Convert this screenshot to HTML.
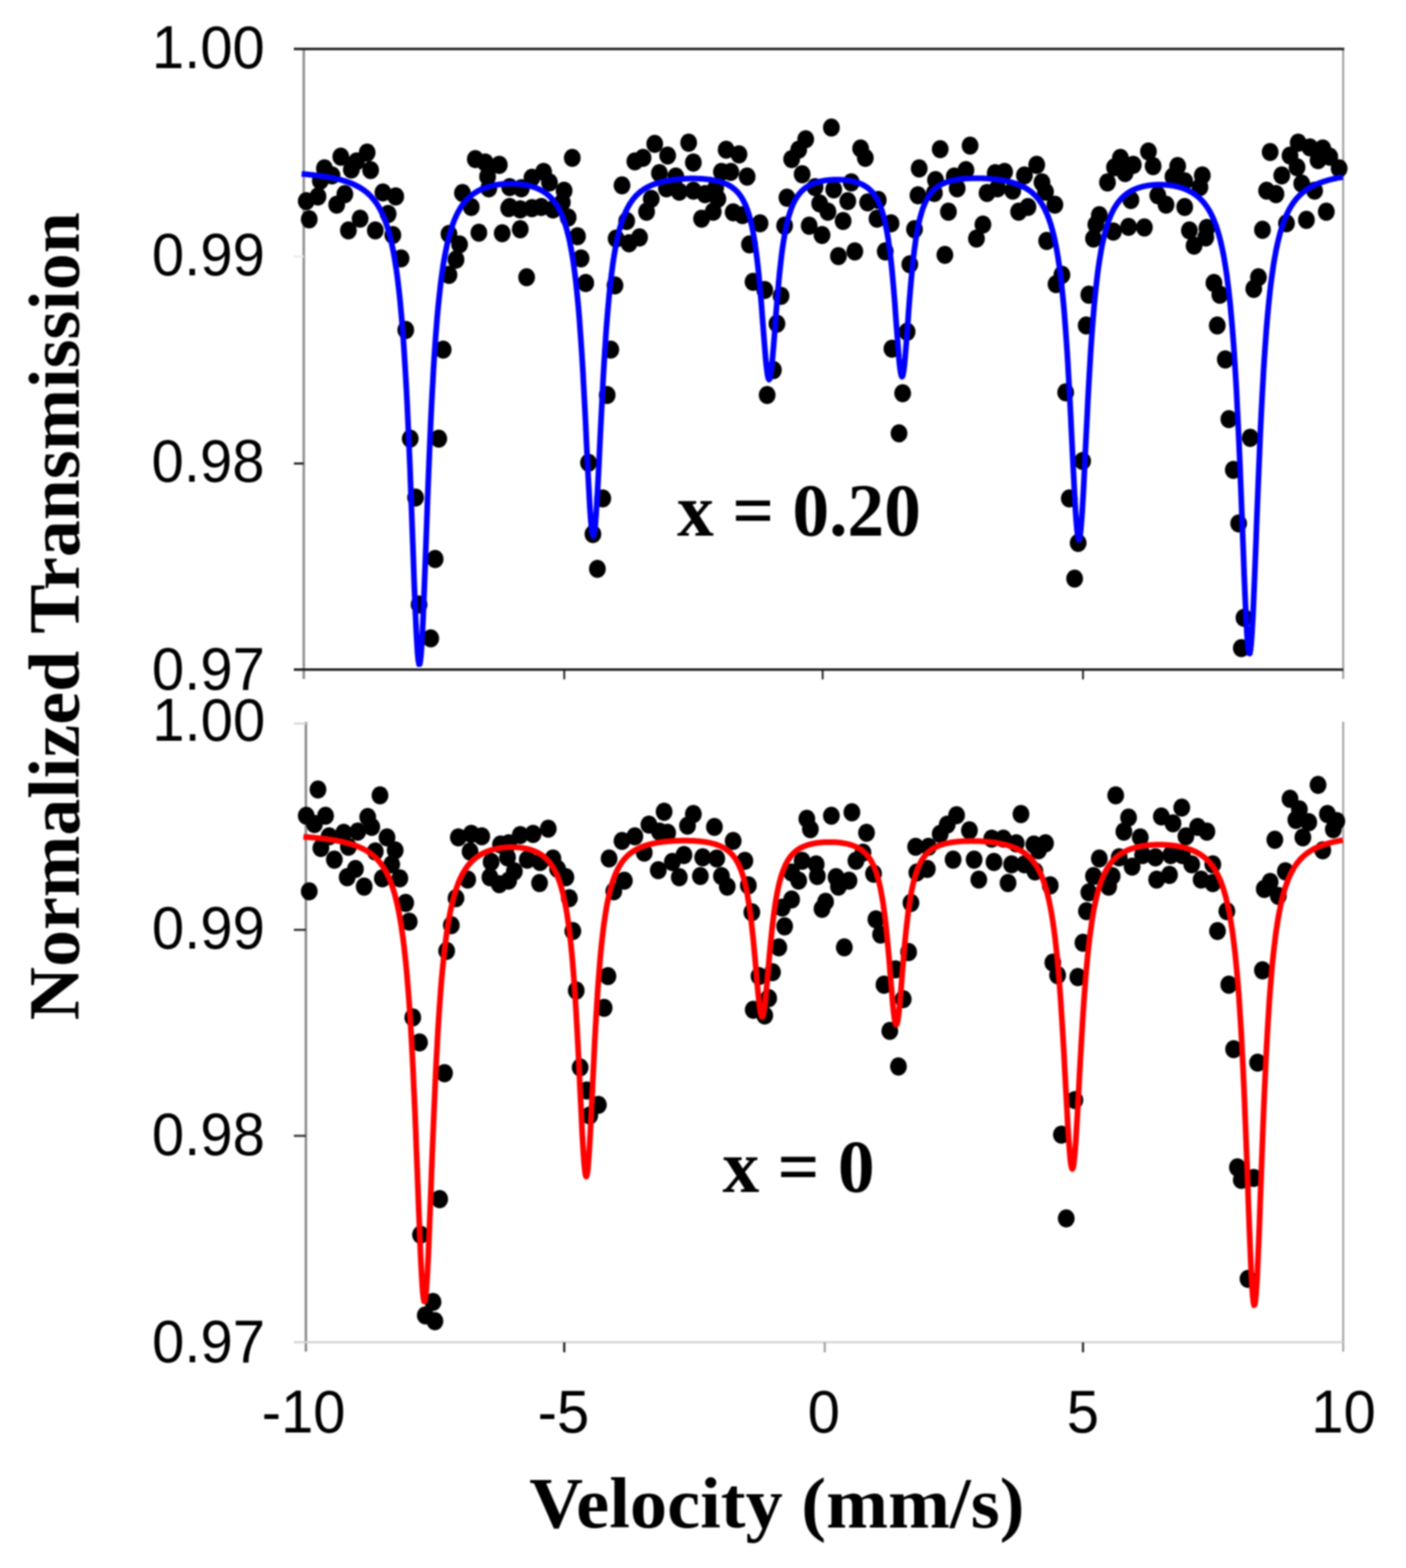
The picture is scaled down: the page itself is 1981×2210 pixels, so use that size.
<!DOCTYPE html>
<html><head><meta charset="utf-8"><style>html,body{margin:0;padding:0;background:#fff}svg{display:block}#w{filter:blur(0.8px);width:1981px;height:2210px}</style></head><body><div id="w">
<svg width="1981" height="2210" viewBox="0 0 1981 2210">
<rect width="1981" height="2210" fill="#fff"/>
<g stroke-linecap="butt" fill="none">
<line x1="428" y1="69" x2="428" y2="957" stroke="#8f8f8f" stroke-width="3.5"/>
<line x1="1892.5" y1="69" x2="1892.5" y2="957" stroke="#a5a5a5" stroke-width="3"/>
<line x1="414" y1="361.5" x2="428" y2="361.5" stroke="#ececec" stroke-width="3"/>
<line x1="414" y1="653.3" x2="428" y2="653.3" stroke="#1e1e1e" stroke-width="3"/>
<line x1="414" y1="69" x2="1894" y2="69" stroke="#1e1e1e" stroke-width="3.6"/>
<line x1="414" y1="943.8" x2="1892.5" y2="943.8" stroke="#1e1e1e" stroke-width="3.4"/>
<line x1="795.0" y1="944" x2="795.0" y2="957.5" stroke="#1e1e1e" stroke-width="2.6"/>
<line x1="1159.1" y1="944" x2="1159.1" y2="957.5" stroke="#1e1e1e" stroke-width="2.6"/>
<line x1="1525.9" y1="944" x2="1525.9" y2="957.5" stroke="#1e1e1e" stroke-width="2.6"/>
<line x1="431" y1="1017.6" x2="431" y2="1905" stroke="#8a8a8a" stroke-width="3.5"/>
<line x1="1892.5" y1="1017.3" x2="1892.5" y2="1905" stroke="#aaaaaa" stroke-width="3"/>
<line x1="414" y1="1019.8" x2="431" y2="1019.8" stroke="#d8d8d8" stroke-width="3"/>
<line x1="414" y1="1310.6" x2="431" y2="1310.6" stroke="#333" stroke-width="3"/>
<line x1="414" y1="1600.9" x2="431" y2="1600.9" stroke="#333" stroke-width="3"/>
<line x1="414" y1="1891.8" x2="1892.5" y2="1891.8" stroke="#d3d3d3" stroke-width="3"/>
<line x1="795.0" y1="1892" x2="795.0" y2="1906" stroke="#1a1a1a" stroke-width="3"/>
<line x1="1162.0" y1="1892" x2="1162.0" y2="1906" stroke="#a0a0a0" stroke-width="3"/>
<line x1="1525.9" y1="1892" x2="1525.9" y2="1906" stroke="#222" stroke-width="3"/>
</g>
<g fill="#000"><ellipse cx="435.7" cy="309.1" rx="11.8" ry="12.8"/><ellipse cx="431.5" cy="283.5" rx="11.8" ry="12.8"/><ellipse cx="448.0" cy="276.9" rx="11.8" ry="12.8"/><ellipse cx="457.1" cy="237.4" rx="11.8" ry="12.8"/><ellipse cx="467.8" cy="247.3" rx="11.8" ry="12.8"/><ellipse cx="480.2" cy="220.9" rx="11.8" ry="12.8"/><ellipse cx="495.0" cy="239.0" rx="11.8" ry="12.8"/><ellipse cx="517.3" cy="215.1" rx="11.8" ry="12.8"/><ellipse cx="522.2" cy="239.8" rx="11.8" ry="12.8"/><ellipse cx="502.4" cy="227.5" rx="11.8" ry="12.8"/><ellipse cx="474.4" cy="288.5" rx="11.8" ry="12.8"/><ellipse cx="485.9" cy="273.6" rx="11.8" ry="12.8"/><ellipse cx="490.9" cy="324.7" rx="11.8" ry="12.8"/><ellipse cx="507.4" cy="308.2" rx="11.8" ry="12.8"/><ellipse cx="528.8" cy="324.7" rx="11.8" ry="12.8"/><ellipse cx="539.5" cy="271.2" rx="11.8" ry="12.8"/><ellipse cx="557.6" cy="276.9" rx="11.8" ry="12.8"/><ellipse cx="546.9" cy="301.6" rx="11.8" ry="12.8"/><ellipse cx="553.5" cy="331.3" rx="11.8" ry="12.8"/><ellipse cx="565.1" cy="364.3" rx="11.8" ry="12.8"/><ellipse cx="669.7" cy="224.2" rx="11.8" ry="12.8"/><ellipse cx="683.7" cy="229.1" rx="11.8" ry="12.8"/><ellipse cx="703.5" cy="232.4" rx="11.8" ry="12.8"/><ellipse cx="688.7" cy="265.4" rx="11.8" ry="12.8"/><ellipse cx="651.6" cy="272.0" rx="11.8" ry="12.8"/><ellipse cx="664.0" cy="291.8" rx="11.8" ry="12.8"/><ellipse cx="716.7" cy="293.4" rx="11.8" ry="12.8"/><ellipse cx="674.7" cy="328.0" rx="11.8" ry="12.8"/><ellipse cx="707.6" cy="328.8" rx="11.8" ry="12.8"/><ellipse cx="632.6" cy="329.7" rx="11.8" ry="12.8"/><ellipse cx="647.5" cy="344.5" rx="11.8" ry="12.8"/><ellipse cx="642.5" cy="365.9" rx="11.8" ry="12.8"/><ellipse cx="632.6" cy="387.4" rx="11.8" ry="12.8"/><ellipse cx="451.3" cy="254.7" rx="11.8" ry="12.8"/><ellipse cx="687.0" cy="248.9" rx="11.8" ry="12.8"/><ellipse cx="806.3" cy="222.5" rx="11.8" ry="12.8"/><ellipse cx="765.9" cy="242.3" rx="11.8" ry="12.8"/><ellipse cx="749.5" cy="250.5" rx="11.8" ry="12.8"/><ellipse cx="774.2" cy="257.1" rx="11.8" ry="12.8"/><ellipse cx="794.8" cy="268.7" rx="11.8" ry="12.8"/><ellipse cx="733.0" cy="295.1" rx="11.8" ry="12.8"/><ellipse cx="749.5" cy="293.4" rx="11.8" ry="12.8"/><ellipse cx="762.6" cy="291.8" rx="11.8" ry="12.8"/><ellipse cx="779.1" cy="295.1" rx="11.8" ry="12.8"/><ellipse cx="792.3" cy="285.2" rx="11.8" ry="12.8"/><ellipse cx="733.0" cy="323.1" rx="11.8" ry="12.8"/><ellipse cx="800.5" cy="306.6" rx="11.8" ry="12.8"/><ellipse cx="813.7" cy="333.0" rx="11.8" ry="12.8"/><ellipse cx="818.7" cy="364.3" rx="11.8" ry="12.8"/><ellipse cx="825.3" cy="398.9" rx="11.8" ry="12.8"/><ellipse cx="742.0" cy="390.7" rx="11.8" ry="12.8"/><ellipse cx="876.4" cy="261.3" rx="11.8" ry="12.8"/><ellipse cx="894.5" cy="227.5" rx="11.8" ry="12.8"/><ellipse cx="906.0" cy="222.5" rx="11.8" ry="12.8"/><ellipse cx="922.5" cy="202.7" rx="11.8" ry="12.8"/><ellipse cx="940.7" cy="219.2" rx="11.8" ry="12.8"/><ellipse cx="970.3" cy="201.1" rx="11.8" ry="12.8"/><ellipse cx="976.9" cy="229.1" rx="11.8" ry="12.8"/><ellipse cx="929.1" cy="244.0" rx="11.8" ry="12.8"/><ellipse cx="952.2" cy="248.9" rx="11.8" ry="12.8"/><ellipse cx="939.0" cy="265.4" rx="11.8" ry="12.8"/><ellipse cx="957.1" cy="270.3" rx="11.8" ry="12.8"/><ellipse cx="976.9" cy="268.7" rx="11.8" ry="12.8"/><ellipse cx="993.4" cy="273.6" rx="11.8" ry="12.8"/><ellipse cx="917.6" cy="280.2" rx="11.8" ry="12.8"/><ellipse cx="911.0" cy="298.4" rx="11.8" ry="12.8"/><ellipse cx="883.0" cy="311.5" rx="11.8" ry="12.8"/><ellipse cx="868.1" cy="336.3" rx="11.8" ry="12.8"/><ellipse cx="886.3" cy="342.9" rx="11.8" ry="12.8"/><ellipse cx="901.1" cy="334.6" rx="11.8" ry="12.8"/><ellipse cx="866.5" cy="402.2" rx="11.8" ry="12.8"/><ellipse cx="988.5" cy="308.2" rx="11.8" ry="12.8"/><ellipse cx="718.1" cy="291.8" rx="11.8" ry="12.8"/><ellipse cx="718.1" cy="263.7" rx="11.8" ry="12.8"/><ellipse cx="734.6" cy="265.4" rx="11.8" ry="12.8"/><ellipse cx="1023.1" cy="211.0" rx="11.8" ry="12.8"/><ellipse cx="1041.2" cy="217.6" rx="11.8" ry="12.8"/><ellipse cx="1016.5" cy="242.3" rx="11.8" ry="12.8"/><ellipse cx="1029.7" cy="242.3" rx="11.8" ry="12.8"/><ellipse cx="1052.7" cy="248.9" rx="11.8" ry="12.8"/><ellipse cx="1011.5" cy="280.2" rx="11.8" ry="12.8"/><ellipse cx="1004.9" cy="298.4" rx="11.8" ry="12.8"/><ellipse cx="1033.0" cy="299.2" rx="11.8" ry="12.8"/><ellipse cx="1046.2" cy="303.3" rx="11.8" ry="12.8"/><ellipse cx="1070.9" cy="314.8" rx="11.8" ry="12.8"/><ellipse cx="1056.0" cy="344.5" rx="11.8" ry="12.8"/><ellipse cx="1061.0" cy="397.3" rx="11.8" ry="12.8"/><ellipse cx="1077.5" cy="408.8" rx="11.8" ry="12.8"/><ellipse cx="1100.5" cy="417.0" rx="11.8" ry="12.8"/><ellipse cx="1135.2" cy="196.2" rx="11.8" ry="12.8"/><ellipse cx="1125.3" cy="211.0" rx="11.8" ry="12.8"/><ellipse cx="1115.4" cy="224.2" rx="11.8" ry="12.8"/><ellipse cx="1171.4" cy="179.7" rx="11.8" ry="12.8"/><ellipse cx="1212.6" cy="209.3" rx="11.8" ry="12.8"/><ellipse cx="1219.2" cy="222.5" rx="11.8" ry="12.8"/><ellipse cx="1130.2" cy="245.6" rx="11.8" ry="12.8"/><ellipse cx="1108.8" cy="278.6" rx="11.8" ry="12.8"/><ellipse cx="1105.5" cy="318.1" rx="11.8" ry="12.8"/><ellipse cx="1148.4" cy="263.7" rx="11.8" ry="12.8"/><ellipse cx="1174.7" cy="267.0" rx="11.8" ry="12.8"/><ellipse cx="1199.5" cy="257.1" rx="11.8" ry="12.8"/><ellipse cx="1194.5" cy="283.5" rx="11.8" ry="12.8"/><ellipse cx="1154.9" cy="286.8" rx="11.8" ry="12.8"/><ellipse cx="1166.5" cy="298.4" rx="11.8" ry="12.8"/><ellipse cx="1187.9" cy="311.5" rx="11.8" ry="12.8"/><ellipse cx="1140.1" cy="318.1" rx="11.8" ry="12.8"/><ellipse cx="1158.2" cy="331.3" rx="11.8" ry="12.8"/><ellipse cx="1181.3" cy="361.0" rx="11.8" ry="12.8"/><ellipse cx="1204.4" cy="354.4" rx="11.8" ry="12.8"/><ellipse cx="1222.5" cy="285.2" rx="11.8" ry="12.8"/><ellipse cx="1237.4" cy="281.9" rx="11.8" ry="12.8"/><ellipse cx="1235.7" cy="308.2" rx="11.8" ry="12.8"/><ellipse cx="1255.5" cy="314.8" rx="11.8" ry="12.8"/><ellipse cx="1247.3" cy="354.4" rx="11.8" ry="12.8"/><ellipse cx="1295.1" cy="237.4" rx="11.8" ry="12.8"/><ellipse cx="1293.4" cy="275.3" rx="11.8" ry="12.8"/><ellipse cx="1288.5" cy="323.1" rx="11.8" ry="12.8"/><ellipse cx="1281.9" cy="372.5" rx="11.8" ry="12.8"/><ellipse cx="1008.2" cy="265.4" rx="11.8" ry="12.8"/><ellipse cx="1324.7" cy="210.2" rx="11.8" ry="12.8"/><ellipse cx="1366.8" cy="205.2" rx="11.8" ry="12.8"/><ellipse cx="1318.1" cy="253.8" rx="11.8" ry="12.8"/><ellipse cx="1316.5" cy="272.0" rx="11.8" ry="12.8"/><ellipse cx="1361.0" cy="239.8" rx="11.8" ry="12.8"/><ellipse cx="1348.6" cy="265.4" rx="11.8" ry="12.8"/><ellipse cx="1344.5" cy="248.9" rx="11.8" ry="12.8"/><ellipse cx="1402.2" cy="244.0" rx="11.8" ry="12.8"/><ellipse cx="1415.4" cy="242.3" rx="11.8" ry="12.8"/><ellipse cx="1390.7" cy="272.0" rx="11.8" ry="12.8"/><ellipse cx="1405.5" cy="265.4" rx="11.8" ry="12.8"/><ellipse cx="1426.9" cy="268.7" rx="11.8" ry="12.8"/><ellipse cx="1443.4" cy="247.3" rx="11.8" ry="12.8"/><ellipse cx="1460.7" cy="232.4" rx="11.8" ry="12.8"/><ellipse cx="1468.1" cy="257.1" rx="11.8" ry="12.8"/><ellipse cx="1473.1" cy="270.3" rx="11.8" ry="12.8"/><ellipse cx="1486.3" cy="288.5" rx="11.8" ry="12.8"/><ellipse cx="1448.4" cy="291.8" rx="11.8" ry="12.8"/><ellipse cx="1435.2" cy="298.4" rx="11.8" ry="12.8"/><ellipse cx="1336.3" cy="298.4" rx="11.8" ry="12.8"/><ellipse cx="1384.9" cy="316.5" rx="11.8" ry="12.8"/><ellipse cx="1375.8" cy="336.3" rx="11.8" ry="12.8"/><ellipse cx="1331.3" cy="359.3" rx="11.8" ry="12.8"/><ellipse cx="1474.7" cy="339.6" rx="11.8" ry="12.8"/><ellipse cx="1496.2" cy="387.4" rx="11.8" ry="12.8"/><ellipse cx="1487.9" cy="400.5" rx="11.8" ry="12.8"/><ellipse cx="1534.1" cy="415.4" rx="11.8" ry="12.8"/><ellipse cx="1578.6" cy="222.5" rx="11.8" ry="12.8"/><ellipse cx="1570.3" cy="235.7" rx="11.8" ry="12.8"/><ellipse cx="1585.2" cy="244.0" rx="11.8" ry="12.8"/><ellipse cx="1596.7" cy="232.4" rx="11.8" ry="12.8"/><ellipse cx="1560.4" cy="257.1" rx="11.8" ry="12.8"/><ellipse cx="1593.4" cy="281.9" rx="11.8" ry="12.8"/><ellipse cx="1548.9" cy="303.3" rx="11.8" ry="12.8"/><ellipse cx="1544.0" cy="316.5" rx="11.8" ry="12.8"/><ellipse cx="1540.7" cy="336.3" rx="11.8" ry="12.8"/><ellipse cx="1568.7" cy="326.4" rx="11.8" ry="12.8"/><ellipse cx="1590.1" cy="319.8" rx="11.8" ry="12.8"/><ellipse cx="1618.1" cy="213.5" rx="11.8" ry="12.8"/><ellipse cx="1624.7" cy="234.1" rx="11.8" ry="12.8"/><ellipse cx="1659.3" cy="234.1" rx="11.8" ry="12.8"/><ellipse cx="1652.7" cy="248.9" rx="11.8" ry="12.8"/><ellipse cx="1669.2" cy="255.5" rx="11.8" ry="12.8"/><ellipse cx="1694.0" cy="247.3" rx="11.8" ry="12.8"/><ellipse cx="1690.7" cy="263.7" rx="11.8" ry="12.8"/><ellipse cx="1631.3" cy="275.3" rx="11.8" ry="12.8"/><ellipse cx="1642.9" cy="288.5" rx="11.8" ry="12.8"/><ellipse cx="1669.2" cy="291.8" rx="11.8" ry="12.8"/><ellipse cx="1612.4" cy="320.6" rx="11.8" ry="12.8"/><ellipse cx="1675.8" cy="324.7" rx="11.8" ry="12.8"/><ellipse cx="1700.5" cy="321.4" rx="11.8" ry="12.8"/><ellipse cx="1682.4" cy="346.2" rx="11.8" ry="12.8"/><ellipse cx="1698.9" cy="334.6" rx="11.8" ry="12.8"/><ellipse cx="1710.4" cy="398.9" rx="11.8" ry="12.8"/><ellipse cx="1718.7" cy="415.4" rx="11.8" ry="12.8"/><ellipse cx="1789.6" cy="214.3" rx="11.8" ry="12.8"/><ellipse cx="1829.1" cy="201.1" rx="11.8" ry="12.8"/><ellipse cx="1845.6" cy="207.7" rx="11.8" ry="12.8"/><ellipse cx="1863.7" cy="209.3" rx="11.8" ry="12.8"/><ellipse cx="1873.6" cy="220.9" rx="11.8" ry="12.8"/><ellipse cx="1886.8" cy="237.4" rx="11.8" ry="12.8"/><ellipse cx="1817.6" cy="219.2" rx="11.8" ry="12.8"/><ellipse cx="1827.5" cy="235.7" rx="11.8" ry="12.8"/><ellipse cx="1857.1" cy="225.8" rx="11.8" ry="12.8"/><ellipse cx="1806.0" cy="247.3" rx="11.8" ry="12.8"/><ellipse cx="1784.6" cy="268.7" rx="11.8" ry="12.8"/><ellipse cx="1797.8" cy="273.6" rx="11.8" ry="12.8"/><ellipse cx="1834.1" cy="258.8" rx="11.8" ry="12.8"/><ellipse cx="1852.2" cy="268.7" rx="11.8" ry="12.8"/><ellipse cx="1868.7" cy="298.4" rx="11.8" ry="12.8"/><ellipse cx="1840.7" cy="309.9" rx="11.8" ry="12.8"/><ellipse cx="1812.6" cy="314.8" rx="11.8" ry="12.8"/><ellipse cx="1778.8" cy="323.9" rx="11.8" ry="12.8"/><ellipse cx="1773.1" cy="390.7" rx="11.8" ry="12.8"/><ellipse cx="1766.5" cy="407.1" rx="11.8" ry="12.8"/><ellipse cx="571.7" cy="465.1" rx="11.8" ry="12.8"/><ellipse cx="624.4" cy="492.8" rx="11.8" ry="12.8"/><ellipse cx="578.0" cy="618.3" rx="11.8" ry="12.8"/><ellipse cx="618.2" cy="618.3" rx="11.8" ry="12.8"/><ellipse cx="585.5" cy="701.2" rx="11.8" ry="12.8"/><ellipse cx="613.1" cy="787.9" rx="11.8" ry="12.8"/><ellipse cx="590.5" cy="852.0" rx="11.8" ry="12.8"/><ellipse cx="606.9" cy="899.7" rx="11.8" ry="12.8"/><ellipse cx="860.6" cy="492.8" rx="11.8" ry="12.8"/><ellipse cx="855.5" cy="556.8" rx="11.8" ry="12.8"/><ellipse cx="829.2" cy="652.3" rx="11.8" ry="12.8"/><ellipse cx="849.3" cy="702.5" rx="11.8" ry="12.8"/><ellipse cx="835.4" cy="752.7" rx="11.8" ry="12.8"/><ellipse cx="841.7" cy="801.7" rx="11.8" ry="12.8"/><ellipse cx="1094.7" cy="456.3" rx="11.8" ry="12.8"/><ellipse cx="1089.7" cy="521.6" rx="11.8" ry="12.8"/><ellipse cx="1080.9" cy="556.8" rx="11.8" ry="12.8"/><ellipse cx="1278.1" cy="467.6" rx="11.8" ry="12.8"/><ellipse cx="1256.7" cy="491.5" rx="11.8" ry="12.8"/><ellipse cx="1271.8" cy="554.3" rx="11.8" ry="12.8"/><ellipse cx="1266.7" cy="610.8" rx="11.8" ry="12.8"/><ellipse cx="1530.4" cy="458.8" rx="11.8" ry="12.8"/><ellipse cx="1501.5" cy="553.0" rx="11.8" ry="12.8"/><ellipse cx="1525.4" cy="649.7" rx="11.8" ry="12.8"/><ellipse cx="1506.6" cy="702.5" rx="11.8" ry="12.8"/><ellipse cx="1519.1" cy="765.3" rx="11.8" ry="12.8"/><ellipse cx="1514.1" cy="815.5" rx="11.8" ry="12.8"/><ellipse cx="1715.1" cy="458.8" rx="11.8" ry="12.8"/><ellipse cx="1726.4" cy="506.6" rx="11.8" ry="12.8"/><ellipse cx="1731.4" cy="590.7" rx="11.8" ry="12.8"/><ellipse cx="1761.5" cy="617.1" rx="11.8" ry="12.8"/><ellipse cx="1737.7" cy="662.3" rx="11.8" ry="12.8"/><ellipse cx="1745.2" cy="737.7" rx="11.8" ry="12.8"/><ellipse cx="1752.7" cy="870.8" rx="11.8" ry="12.8"/><ellipse cx="1749.0" cy="913.5" rx="11.8" ry="12.8"/></g>
<path d="M425.0 245.1 L426.0 245.2 L427.0 245.2 L427.9 245.3 L428.9 245.4 L429.9 245.5 L430.9 245.6 L431.9 245.7 L432.8 245.8 L433.8 245.9 L434.8 246.0 L435.8 246.1 L436.7 246.2 L437.7 246.3 L438.7 246.4 L439.7 246.5 L440.7 246.6 L441.6 246.7 L442.6 246.8 L443.6 246.9 L444.6 247.1 L445.6 247.2 L446.5 247.3 L447.5 247.4 L448.5 247.5 L449.5 247.7 L450.4 247.8 L451.4 247.9 L452.4 248.1 L453.4 248.2 L454.4 248.4 L455.3 248.5 L456.3 248.7 L457.3 248.8 L458.3 249.0 L459.3 249.1 L460.2 249.3 L461.2 249.5 L462.2 249.6 L463.2 249.8 L464.1 250.0 L465.1 250.2 L466.1 250.3 L467.1 250.5 L468.1 250.7 L469.0 250.9 L470.0 251.1 L471.0 251.3 L472.0 251.5 L473.0 251.8 L473.9 252.0 L474.9 252.2 L475.9 252.4 L476.9 252.7 L477.8 252.9 L478.8 253.2 L479.8 253.4 L480.8 253.7 L481.8 254.0 L482.7 254.3 L483.7 254.5 L484.7 254.8 L485.7 255.1 L486.7 255.4 L487.6 255.8 L488.6 256.1 L489.6 256.4 L490.6 256.8 L491.5 257.1 L492.5 257.5 L493.5 257.9 L494.5 258.2 L495.5 258.6 L496.4 259.0 L497.4 259.5 L498.4 259.9 L499.4 260.3 L500.4 260.8 L501.3 261.3 L502.3 261.8 L503.3 262.3 L504.3 262.8 L505.2 263.3 L506.2 263.9 L507.2 264.5 L508.2 265.1 L509.2 265.7 L510.1 266.3 L511.1 267.0 L512.1 267.7 L513.1 268.4 L514.1 269.1 L515.0 269.8 L516.0 270.6 L517.0 271.4 L518.0 272.3 L519.0 273.2 L519.9 274.1 L520.9 275.0 L521.9 276.0 L522.9 277.0 L523.8 278.1 L524.8 279.2 L525.8 280.4 L526.8 281.6 L527.8 282.8 L528.7 284.1 L529.7 285.5 L530.7 286.9 L531.7 288.4 L532.7 290.0 L533.6 291.6 L534.6 293.3 L535.6 295.1 L536.6 297.0 L537.5 298.9 L538.5 301.0 L539.5 303.2 L540.5 305.4 L541.5 307.8 L542.4 310.4 L543.4 313.0 L544.4 315.8 L545.4 318.8 L546.4 321.9 L547.3 325.2 L548.3 328.7 L549.3 332.4 L550.3 336.3 L551.2 340.5 L552.2 344.9 L553.2 349.6 L554.2 354.6 L555.2 359.9 L556.1 365.5 L557.1 371.6 L558.1 378.0 L559.1 384.8 L560.1 392.2 L561.0 400.0 L562.0 408.4 L563.0 417.4 L564.0 427.1 L564.9 437.4 L565.9 448.5 L566.9 460.4 L567.9 473.2 L568.9 486.9 L569.8 501.6 L570.8 517.4 L571.8 534.3 L572.8 552.3 L573.8 571.6 L574.7 592.1 L575.7 613.9 L576.7 636.9 L577.7 661.0 L578.6 686.2 L579.6 712.3 L580.6 739.1 L581.6 766.2 L582.6 793.2 L583.5 819.7 L584.5 845.0 L585.5 868.5 L586.5 889.5 L587.5 907.4 L588.4 921.5 L589.4 931.1 L590.4 936.1 L591.4 936.0 L592.3 931.0 L593.3 921.3 L594.3 907.2 L595.3 889.3 L596.3 868.3 L597.2 844.7 L598.2 819.4 L599.2 793.0 L600.2 766.0 L601.2 738.9 L602.1 712.2 L603.1 686.2 L604.1 661.0 L605.1 636.9 L606.1 614.0 L607.0 592.3 L608.0 571.9 L609.0 552.7 L610.0 534.7 L610.9 517.9 L611.9 502.2 L612.9 487.5 L613.9 473.9 L614.9 461.1 L615.8 449.3 L616.8 438.2 L617.8 428.0 L618.8 418.4 L619.8 409.4 L620.7 401.1 L621.7 393.3 L622.7 386.0 L623.7 379.2 L624.6 372.8 L625.6 366.8 L626.6 361.2 L627.6 356.0 L628.6 351.1 L629.5 346.4 L630.5 342.1 L631.5 337.9 L632.5 334.1 L633.5 330.4 L634.4 327.0 L635.4 323.7 L636.4 320.7 L637.4 317.7 L638.3 315.0 L639.3 312.4 L640.3 309.9 L641.3 307.6 L642.3 305.3 L643.2 303.2 L644.2 301.2 L645.2 299.3 L646.2 297.5 L647.2 295.7 L648.1 294.1 L649.1 292.5 L650.1 291.0 L651.1 289.6 L652.0 288.2 L653.0 286.9 L654.0 285.6 L655.0 284.4 L656.0 283.3 L656.9 282.2 L657.9 281.1 L658.9 280.1 L659.9 279.2 L660.9 278.2 L661.8 277.4 L662.8 276.5 L663.8 275.7 L664.8 274.9 L665.7 274.2 L666.7 273.5 L667.7 272.8 L668.7 272.1 L669.7 271.5 L670.6 270.8 L671.6 270.3 L672.6 269.7 L673.6 269.2 L674.6 268.6 L675.5 268.1 L676.5 267.6 L677.5 267.2 L678.5 266.7 L679.4 266.3 L680.4 265.9 L681.4 265.5 L682.4 265.1 L683.4 264.8 L684.3 264.4 L685.3 264.1 L686.3 263.7 L687.3 263.4 L688.3 263.1 L689.2 262.9 L690.2 262.6 L691.2 262.3 L692.2 262.1 L693.2 261.8 L694.1 261.6 L695.1 261.4 L696.1 261.2 L697.1 261.0 L698.0 260.8 L699.0 260.6 L700.0 260.5 L701.0 260.3 L702.0 260.2 L702.9 260.0 L703.9 259.9 L704.9 259.8 L705.9 259.6 L706.9 259.5 L707.8 259.4 L708.8 259.3 L709.8 259.3 L710.8 259.2 L711.7 259.1 L712.7 259.1 L713.7 259.0 L714.7 259.0 L715.7 258.9 L716.6 258.9 L717.6 258.9 L718.6 258.9 L719.6 258.9 L720.6 258.9 L721.5 258.9 L722.5 258.9 L723.5 258.9 L724.5 258.9 L725.4 259.0 L726.4 259.0 L727.4 259.1 L728.4 259.2 L729.4 259.2 L730.3 259.3 L731.3 259.4 L732.3 259.5 L733.3 259.6 L734.3 259.7 L735.2 259.8 L736.2 260.0 L737.2 260.1 L738.2 260.3 L739.1 260.4 L740.1 260.6 L741.1 260.8 L742.1 261.0 L743.1 261.2 L744.0 261.4 L745.0 261.6 L746.0 261.9 L747.0 262.1 L748.0 262.4 L748.9 262.7 L749.9 263.0 L750.9 263.3 L751.9 263.6 L752.8 263.9 L753.8 264.3 L754.8 264.7 L755.8 265.0 L756.8 265.4 L757.7 265.9 L758.7 266.3 L759.7 266.8 L760.7 267.2 L761.7 267.8 L762.6 268.3 L763.6 268.8 L764.6 269.4 L765.6 270.0 L766.5 270.6 L767.5 271.3 L768.5 272.0 L769.5 272.7 L770.5 273.5 L771.4 274.2 L772.4 275.1 L773.4 275.9 L774.4 276.8 L775.4 277.8 L776.3 278.8 L777.3 279.8 L778.3 280.9 L779.3 282.1 L780.3 283.3 L781.2 284.6 L782.2 285.9 L783.2 287.3 L784.2 288.8 L785.1 290.4 L786.1 292.0 L787.1 293.8 L788.1 295.6 L789.1 297.5 L790.0 299.6 L791.0 301.7 L792.0 304.0 L793.0 306.5 L794.0 309.0 L794.9 311.8 L795.9 314.7 L796.9 317.7 L797.9 321.0 L798.8 324.5 L799.8 328.2 L800.8 332.2 L801.8 336.4 L802.8 340.9 L803.7 345.8 L804.7 350.9 L805.7 356.4 L806.7 362.4 L807.7 368.7 L808.6 375.5 L809.6 382.9 L810.6 390.7 L811.6 399.2 L812.5 408.2 L813.5 418.0 L814.5 428.5 L815.5 439.7 L816.5 451.8 L817.4 464.7 L818.4 478.5 L819.4 493.3 L820.4 509.0 L821.4 525.7 L822.3 543.3 L823.3 561.7 L824.3 580.9 L825.3 600.7 L826.2 620.9 L827.2 641.1 L828.2 661.2 L829.2 680.5 L830.2 698.7 L831.1 715.3 L832.1 729.6 L833.1 741.2 L834.1 749.7 L835.1 754.6 L836.0 755.8 L837.0 753.2 L838.0 746.9 L839.0 737.3 L839.9 724.6 L840.9 709.4 L841.9 692.1 L842.9 673.4 L843.9 653.7 L844.8 633.6 L845.8 613.3 L846.8 593.2 L847.8 573.6 L848.8 554.6 L849.7 536.4 L850.7 519.1 L851.7 502.8 L852.7 487.4 L853.6 472.9 L854.6 459.4 L855.6 446.7 L856.6 434.9 L857.6 423.9 L858.5 413.7 L859.5 404.2 L860.5 395.3 L861.5 387.0 L862.5 379.4 L863.4 372.2 L864.4 365.5 L865.4 359.3 L866.4 353.5 L867.4 348.1 L868.3 343.0 L869.3 338.3 L870.3 333.8 L871.3 329.7 L872.2 325.7 L873.2 322.1 L874.2 318.6 L875.2 315.4 L876.2 312.4 L877.1 309.5 L878.1 306.8 L879.1 304.2 L880.1 301.8 L881.1 299.5 L882.0 297.4 L883.0 295.3 L884.0 293.4 L885.0 291.6 L885.9 289.8 L886.9 288.2 L887.9 286.6 L888.9 285.1 L889.9 283.7 L890.8 282.3 L891.8 281.0 L892.8 279.8 L893.8 278.6 L894.8 277.5 L895.7 276.4 L896.7 275.4 L897.7 274.4 L898.7 273.5 L899.6 272.6 L900.6 271.7 L901.6 270.9 L902.6 270.1 L903.6 269.4 L904.5 268.7 L905.5 268.0 L906.5 267.3 L907.5 266.6 L908.5 266.0 L909.4 265.4 L910.4 264.9 L911.4 264.3 L912.4 263.8 L913.3 263.3 L914.3 262.8 L915.3 262.3 L916.3 261.9 L917.3 261.4 L918.2 261.0 L919.2 260.6 L920.2 260.2 L921.2 259.9 L922.2 259.5 L923.1 259.1 L924.1 258.8 L925.1 258.5 L926.1 258.2 L927.0 257.9 L928.0 257.6 L929.0 257.3 L930.0 257.0 L931.0 256.8 L931.9 256.5 L932.9 256.3 L933.9 256.0 L934.9 255.8 L935.9 255.6 L936.8 255.4 L937.8 255.2 L938.8 255.0 L939.8 254.8 L940.7 254.6 L941.7 254.4 L942.7 254.2 L943.7 254.1 L944.7 253.9 L945.6 253.8 L946.6 253.6 L947.6 253.5 L948.6 253.4 L949.6 253.2 L950.5 253.1 L951.5 253.0 L952.5 252.9 L953.5 252.8 L954.5 252.7 L955.4 252.6 L956.4 252.5 L957.4 252.4 L958.4 252.3 L959.3 252.2 L960.3 252.2 L961.3 252.1 L962.3 252.0 L963.3 252.0 L964.2 251.9 L965.2 251.9 L966.2 251.8 L967.2 251.8 L968.2 251.7 L969.1 251.7 L970.1 251.7 L971.1 251.7 L972.1 251.6 L973.0 251.6 L974.0 251.6 L975.0 251.6 L976.0 251.6 L977.0 251.6 L977.9 251.6 L978.9 251.6 L979.9 251.6 L980.9 251.7 L981.9 251.7 L982.8 251.7 L983.8 251.7 L984.8 251.8 L985.8 251.8 L986.7 251.9 L987.7 251.9 L988.7 252.0 L989.7 252.1 L990.7 252.1 L991.6 252.2 L992.6 252.3 L993.6 252.4 L994.6 252.5 L995.6 252.6 L996.5 252.7 L997.5 252.8 L998.5 252.9 L999.5 253.0 L1000.4 253.2 L1001.4 253.3 L1002.4 253.5 L1003.4 253.6 L1004.4 253.8 L1005.3 254.0 L1006.3 254.2 L1007.3 254.3 L1008.3 254.6 L1009.3 254.8 L1010.2 255.0 L1011.2 255.2 L1012.2 255.5 L1013.2 255.8 L1014.1 256.0 L1015.1 256.3 L1016.1 256.6 L1017.1 256.9 L1018.1 257.3 L1019.0 257.6 L1020.0 258.0 L1021.0 258.4 L1022.0 258.8 L1023.0 259.2 L1023.9 259.7 L1024.9 260.2 L1025.9 260.7 L1026.9 261.2 L1027.8 261.7 L1028.8 262.3 L1029.8 262.9 L1030.8 263.6 L1031.8 264.3 L1032.7 265.0 L1033.7 265.8 L1034.7 266.6 L1035.7 267.4 L1036.7 268.3 L1037.6 269.3 L1038.6 270.3 L1039.6 271.4 L1040.6 272.5 L1041.6 273.7 L1042.5 275.0 L1043.5 276.4 L1044.5 277.9 L1045.5 279.4 L1046.4 281.1 L1047.4 282.9 L1048.4 284.8 L1049.4 286.8 L1050.4 289.0 L1051.3 291.4 L1052.3 293.9 L1053.3 296.6 L1054.3 299.5 L1055.3 302.7 L1056.2 306.1 L1057.2 309.7 L1058.2 313.7 L1059.2 318.0 L1060.1 322.6 L1061.1 327.6 L1062.1 333.1 L1063.1 339.0 L1064.1 345.4 L1065.0 352.3 L1066.0 359.8 L1067.0 367.9 L1068.0 376.7 L1069.0 386.1 L1069.9 396.2 L1070.9 406.9 L1071.9 418.3 L1072.9 430.3 L1073.8 442.8 L1074.8 455.6 L1075.8 468.5 L1076.8 481.2 L1077.8 493.5 L1078.7 504.9 L1079.7 515.1 L1080.7 523.5 L1081.7 529.8 L1082.7 533.7 L1083.6 535.0 L1084.6 533.5 L1085.6 529.5 L1086.6 523.1 L1087.5 514.5 L1088.5 504.3 L1089.5 492.8 L1090.5 480.5 L1091.5 467.8 L1092.4 454.8 L1093.4 442.1 L1094.4 429.6 L1095.4 417.7 L1096.4 406.3 L1097.3 395.6 L1098.3 385.5 L1099.3 376.2 L1100.3 367.5 L1101.2 359.4 L1102.2 351.9 L1103.2 345.0 L1104.2 338.7 L1105.2 332.8 L1106.1 327.4 L1107.1 322.4 L1108.1 317.7 L1109.1 313.5 L1110.1 309.5 L1111.0 305.9 L1112.0 302.5 L1113.0 299.4 L1114.0 296.5 L1114.9 293.8 L1115.9 291.3 L1116.9 288.9 L1117.9 286.7 L1118.9 284.7 L1119.8 282.8 L1120.8 281.0 L1121.8 279.4 L1122.8 277.8 L1123.8 276.4 L1124.7 275.0 L1125.7 273.7 L1126.7 272.5 L1127.7 271.4 L1128.7 270.3 L1129.6 269.3 L1130.6 268.4 L1131.6 267.5 L1132.6 266.6 L1133.5 265.8 L1134.5 265.1 L1135.5 264.4 L1136.5 263.7 L1137.5 263.0 L1138.4 262.4 L1139.4 261.9 L1140.4 261.3 L1141.4 260.8 L1142.4 260.3 L1143.3 259.9 L1144.3 259.4 L1145.3 259.0 L1146.3 258.6 L1147.2 258.2 L1148.2 257.9 L1149.2 257.5 L1150.2 257.2 L1151.2 256.9 L1152.1 256.6 L1153.1 256.4 L1154.1 256.1 L1155.1 255.9 L1156.1 255.6 L1157.0 255.4 L1158.0 255.2 L1159.0 255.0 L1160.0 254.8 L1160.9 254.7 L1161.9 254.5 L1162.9 254.3 L1163.9 254.2 L1164.9 254.1 L1165.8 254.0 L1166.8 253.9 L1167.8 253.7 L1168.8 253.7 L1169.8 253.6 L1170.7 253.5 L1171.7 253.4 L1172.7 253.4 L1173.7 253.3 L1174.6 253.3 L1175.6 253.3 L1176.6 253.2 L1177.6 253.2 L1178.6 253.2 L1179.5 253.2 L1180.5 253.2 L1181.5 253.2 L1182.5 253.2 L1183.5 253.3 L1184.4 253.3 L1185.4 253.4 L1186.4 253.4 L1187.4 253.5 L1188.3 253.6 L1189.3 253.6 L1190.3 253.7 L1191.3 253.8 L1192.3 253.9 L1193.2 254.1 L1194.2 254.2 L1195.2 254.3 L1196.2 254.5 L1197.2 254.6 L1198.1 254.8 L1199.1 255.0 L1200.1 255.2 L1201.1 255.4 L1202.1 255.6 L1203.0 255.9 L1204.0 256.1 L1205.0 256.4 L1206.0 256.7 L1206.9 257.0 L1207.9 257.3 L1208.9 257.6 L1209.9 258.0 L1210.9 258.3 L1211.8 258.7 L1212.8 259.1 L1213.8 259.6 L1214.8 260.0 L1215.8 260.5 L1216.7 261.1 L1217.7 261.6 L1218.7 262.2 L1219.7 262.8 L1220.6 263.5 L1221.6 264.1 L1222.6 264.9 L1223.6 265.7 L1224.6 266.5 L1225.5 267.4 L1226.5 268.3 L1227.5 269.3 L1228.5 270.3 L1229.5 271.4 L1230.4 272.6 L1231.4 273.9 L1232.4 275.3 L1233.4 276.7 L1234.3 278.3 L1235.3 280.0 L1236.3 281.8 L1237.3 283.7 L1238.3 285.8 L1239.2 288.0 L1240.2 290.4 L1241.2 293.0 L1242.2 295.8 L1243.2 298.8 L1244.1 302.1 L1245.1 305.6 L1246.1 309.5 L1247.1 313.6 L1248.0 318.2 L1249.0 323.1 L1250.0 328.5 L1251.0 334.3 L1252.0 340.7 L1252.9 347.7 L1253.9 355.2 L1254.9 363.4 L1255.9 372.3 L1256.9 382.0 L1257.8 392.3 L1258.8 403.5 L1259.8 415.3 L1260.8 427.8 L1261.7 440.8 L1262.7 454.2 L1263.7 467.7 L1264.7 480.9 L1265.7 493.5 L1266.6 505.1 L1267.6 515.0 L1268.6 522.9 L1269.6 528.3 L1270.6 530.9 L1271.5 530.5 L1272.5 527.2 L1273.5 521.1 L1274.5 512.6 L1275.4 502.2 L1276.4 490.3 L1277.4 477.5 L1278.4 464.1 L1279.4 450.6 L1280.3 437.3 L1281.3 424.4 L1282.3 412.1 L1283.3 400.4 L1284.3 389.5 L1285.2 379.3 L1286.2 369.9 L1287.2 361.2 L1288.2 353.1 L1289.2 345.7 L1290.1 338.9 L1291.1 332.7 L1292.1 327.0 L1293.1 321.7 L1294.0 316.9 L1295.0 312.4 L1296.0 308.3 L1297.0 304.6 L1298.0 301.1 L1298.9 297.9 L1299.9 294.9 L1300.9 292.2 L1301.9 289.6 L1302.9 287.3 L1303.8 285.1 L1304.8 283.0 L1305.8 281.1 L1306.8 279.4 L1307.7 277.7 L1308.7 276.2 L1309.7 274.7 L1310.7 273.4 L1311.7 272.1 L1312.6 270.9 L1313.6 269.8 L1314.6 268.8 L1315.6 267.8 L1316.6 266.9 L1317.5 266.0 L1318.5 265.2 L1319.5 264.4 L1320.5 263.6 L1321.4 263.0 L1322.4 262.3 L1323.4 261.7 L1324.4 261.1 L1325.4 260.5 L1326.3 260.0 L1327.3 259.5 L1328.3 259.0 L1329.3 258.6 L1330.3 258.2 L1331.2 257.8 L1332.2 257.4 L1333.2 257.0 L1334.2 256.7 L1335.1 256.3 L1336.1 256.0 L1337.1 255.7 L1338.1 255.4 L1339.1 255.2 L1340.0 254.9 L1341.0 254.6 L1342.0 254.4 L1343.0 254.2 L1344.0 254.0 L1344.9 253.8 L1345.9 253.6 L1346.9 253.4 L1347.9 253.2 L1348.8 253.1 L1349.8 252.9 L1350.8 252.8 L1351.8 252.6 L1352.8 252.5 L1353.7 252.4 L1354.7 252.3 L1355.7 252.2 L1356.7 252.1 L1357.7 252.0 L1358.6 251.9 L1359.6 251.8 L1360.6 251.7 L1361.6 251.6 L1362.5 251.6 L1363.5 251.5 L1364.5 251.5 L1365.5 251.4 L1366.5 251.4 L1367.4 251.3 L1368.4 251.3 L1369.4 251.3 L1370.4 251.2 L1371.4 251.2 L1372.3 251.2 L1373.3 251.2 L1374.3 251.2 L1375.3 251.2 L1376.3 251.2 L1377.2 251.2 L1378.2 251.2 L1379.2 251.2 L1380.2 251.2 L1381.1 251.2 L1382.1 251.2 L1383.1 251.3 L1384.1 251.3 L1385.1 251.3 L1386.0 251.4 L1387.0 251.4 L1388.0 251.5 L1389.0 251.5 L1390.0 251.6 L1390.9 251.6 L1391.9 251.7 L1392.9 251.8 L1393.9 251.8 L1394.8 251.9 L1395.8 252.0 L1396.8 252.1 L1397.8 252.2 L1398.8 252.3 L1399.7 252.4 L1400.7 252.5 L1401.7 252.6 L1402.7 252.7 L1403.7 252.8 L1404.6 253.0 L1405.6 253.1 L1406.6 253.2 L1407.6 253.4 L1408.5 253.5 L1409.5 253.7 L1410.5 253.8 L1411.5 254.0 L1412.5 254.1 L1413.4 254.3 L1414.4 254.5 L1415.4 254.7 L1416.4 254.9 L1417.4 255.1 L1418.3 255.3 L1419.3 255.5 L1420.3 255.8 L1421.3 256.0 L1422.2 256.2 L1423.2 256.5 L1424.2 256.7 L1425.2 257.0 L1426.2 257.3 L1427.1 257.6 L1428.1 257.9 L1429.1 258.2 L1430.1 258.5 L1431.1 258.8 L1432.0 259.2 L1433.0 259.5 L1434.0 259.9 L1435.0 260.3 L1435.9 260.7 L1436.9 261.1 L1437.9 261.5 L1438.9 261.9 L1439.9 262.4 L1440.8 262.9 L1441.8 263.4 L1442.8 263.9 L1443.8 264.4 L1444.8 264.9 L1445.7 265.5 L1446.7 266.1 L1447.7 266.7 L1448.7 267.4 L1449.6 268.0 L1450.6 268.7 L1451.6 269.5 L1452.6 270.2 L1453.6 271.0 L1454.5 271.8 L1455.5 272.7 L1456.5 273.6 L1457.5 274.5 L1458.5 275.5 L1459.4 276.5 L1460.4 277.5 L1461.4 278.7 L1462.4 279.8 L1463.4 281.0 L1464.3 282.3 L1465.3 283.7 L1466.3 285.1 L1467.3 286.5 L1468.2 288.1 L1469.2 289.7 L1470.2 291.4 L1471.2 293.2 L1472.2 295.1 L1473.1 297.2 L1474.1 299.3 L1475.1 301.5 L1476.1 303.9 L1477.1 306.4 L1478.0 309.0 L1479.0 311.8 L1480.0 314.8 L1481.0 318.0 L1481.9 321.3 L1482.9 324.9 L1483.9 328.7 L1484.9 332.7 L1485.9 337.0 L1486.8 341.6 L1487.8 346.5 L1488.8 351.8 L1489.8 357.4 L1490.8 363.4 L1491.7 369.8 L1492.7 376.7 L1493.7 384.1 L1494.7 392.0 L1495.6 400.5 L1496.6 409.7 L1497.6 419.5 L1498.6 430.0 L1499.6 441.3 L1500.5 453.4 L1501.5 466.4 L1502.5 480.2 L1503.5 495.0 L1504.5 510.7 L1505.4 527.4 L1506.4 545.0 L1507.4 563.4 L1508.4 582.5 L1509.3 602.3 L1510.3 622.4 L1511.3 642.7 L1512.3 662.8 L1513.3 682.2 L1514.2 700.6 L1515.2 717.4 L1516.2 732.1 L1517.2 744.2 L1518.2 753.2 L1519.1 758.8 L1520.1 760.7 L1521.1 758.9 L1522.1 753.4 L1523.0 744.4 L1524.0 732.4 L1525.0 717.8 L1526.0 701.0 L1527.0 682.7 L1527.9 663.3 L1528.9 643.3 L1529.9 623.0 L1530.9 602.9 L1531.9 583.2 L1532.8 564.0 L1533.8 545.7 L1534.8 528.1 L1535.8 511.5 L1536.7 495.8 L1537.7 481.0 L1538.7 467.2 L1539.7 454.3 L1540.7 442.2 L1541.6 430.9 L1542.6 420.4 L1543.6 410.6 L1544.6 401.5 L1545.6 393.0 L1546.5 385.1 L1547.5 377.8 L1548.5 370.9 L1549.5 364.5 L1550.5 358.6 L1551.4 353.0 L1552.4 347.8 L1553.4 342.9 L1554.4 338.4 L1555.3 334.1 L1556.3 330.1 L1557.3 326.3 L1558.3 322.8 L1559.3 319.5 L1560.2 316.4 L1561.2 313.4 L1562.2 310.7 L1563.2 308.1 L1564.2 305.6 L1565.1 303.3 L1566.1 301.1 L1567.1 299.0 L1568.1 297.0 L1569.0 295.2 L1570.0 293.4 L1571.0 291.7 L1572.0 290.2 L1573.0 288.7 L1573.9 287.2 L1574.9 285.9 L1575.9 284.6 L1576.9 283.3 L1577.9 282.2 L1578.8 281.1 L1579.8 280.0 L1580.8 279.0 L1581.8 278.0 L1582.7 277.1 L1583.7 276.2 L1584.7 275.4 L1585.7 274.6 L1586.7 273.8 L1587.6 273.1 L1588.6 272.4 L1589.6 271.7 L1590.6 271.1 L1591.6 270.5 L1592.5 269.9 L1593.5 269.4 L1594.5 268.8 L1595.5 268.3 L1596.4 267.8 L1597.4 267.4 L1598.4 266.9 L1599.4 266.5 L1600.4 266.1 L1601.3 265.7 L1602.3 265.4 L1603.3 265.0 L1604.3 264.7 L1605.3 264.4 L1606.2 264.0 L1607.2 263.8 L1608.2 263.5 L1609.2 263.2 L1610.1 263.0 L1611.1 262.7 L1612.1 262.5 L1613.1 262.3 L1614.1 262.1 L1615.0 261.9 L1616.0 261.7 L1617.0 261.6 L1618.0 261.4 L1619.0 261.3 L1619.9 261.1 L1620.9 261.0 L1621.9 260.9 L1622.9 260.8 L1623.8 260.7 L1624.8 260.6 L1625.8 260.6 L1626.8 260.5 L1627.8 260.4 L1628.7 260.4 L1629.7 260.3 L1630.7 260.3 L1631.7 260.3 L1632.7 260.3 L1633.6 260.3 L1634.6 260.3 L1635.6 260.3 L1636.6 260.3 L1637.6 260.3 L1638.5 260.4 L1639.5 260.4 L1640.5 260.4 L1641.5 260.5 L1642.4 260.6 L1643.4 260.7 L1644.4 260.7 L1645.4 260.8 L1646.4 260.9 L1647.3 261.1 L1648.3 261.2 L1649.3 261.3 L1650.3 261.5 L1651.3 261.6 L1652.2 261.8 L1653.2 261.9 L1654.2 262.1 L1655.2 262.3 L1656.1 262.5 L1657.1 262.7 L1658.1 263.0 L1659.1 263.2 L1660.1 263.4 L1661.0 263.7 L1662.0 264.0 L1663.0 264.2 L1664.0 264.5 L1665.0 264.8 L1665.9 265.2 L1666.9 265.5 L1667.9 265.9 L1668.9 266.2 L1669.8 266.6 L1670.8 267.0 L1671.8 267.4 L1672.8 267.9 L1673.8 268.3 L1674.7 268.8 L1675.7 269.3 L1676.7 269.8 L1677.7 270.3 L1678.7 270.8 L1679.6 271.4 L1680.6 272.0 L1681.6 272.6 L1682.6 273.3 L1683.5 274.0 L1684.5 274.7 L1685.5 275.4 L1686.5 276.2 L1687.5 277.0 L1688.4 277.8 L1689.4 278.6 L1690.4 279.5 L1691.4 280.5 L1692.4 281.5 L1693.3 282.5 L1694.3 283.6 L1695.3 284.7 L1696.3 285.8 L1697.2 287.1 L1698.2 288.3 L1699.2 289.7 L1700.2 291.1 L1701.2 292.5 L1702.1 294.0 L1703.1 295.7 L1704.1 297.3 L1705.1 299.1 L1706.1 301.0 L1707.0 302.9 L1708.0 304.9 L1709.0 307.1 L1710.0 309.4 L1710.9 311.8 L1711.9 314.3 L1712.9 316.9 L1713.9 319.7 L1714.9 322.7 L1715.8 325.8 L1716.8 329.1 L1717.8 332.6 L1718.8 336.3 L1719.8 340.2 L1720.7 344.3 L1721.7 348.7 L1722.7 353.4 L1723.7 358.4 L1724.7 363.7 L1725.6 369.3 L1726.6 375.4 L1727.6 381.8 L1728.6 388.6 L1729.5 395.9 L1730.5 403.7 L1731.5 412.1 L1732.5 421.0 L1733.5 430.6 L1734.4 440.9 L1735.4 451.8 L1736.4 463.6 L1737.4 476.2 L1738.4 489.7 L1739.3 504.2 L1740.3 519.7 L1741.3 536.2 L1742.3 553.8 L1743.2 572.6 L1744.2 592.6 L1745.2 613.7 L1746.2 635.9 L1747.2 659.2 L1748.1 683.4 L1749.1 708.4 L1750.1 734.0 L1751.1 759.8 L1752.1 785.4 L1753.0 810.5 L1754.0 834.4 L1755.0 856.6 L1756.0 876.4 L1756.9 893.3 L1757.9 906.6 L1758.9 915.9 L1759.9 920.8 L1760.9 921.1 L1761.8 916.7 L1762.8 907.9 L1763.8 895.0 L1764.8 878.5 L1765.8 859.0 L1766.7 837.0 L1767.7 813.2 L1768.7 788.2 L1769.7 762.6 L1770.6 736.7 L1771.6 711.1 L1772.6 686.0 L1773.6 661.6 L1774.6 638.1 L1775.5 615.7 L1776.5 594.5 L1777.5 574.3 L1778.5 555.4 L1779.5 537.5 L1780.4 520.8 L1781.4 505.2 L1782.4 490.5 L1783.4 476.9 L1784.3 464.1 L1785.3 452.2 L1786.3 441.1 L1787.3 430.7 L1788.3 421.0 L1789.2 411.9 L1790.2 403.4 L1791.2 395.5 L1792.2 388.1 L1793.2 381.1 L1794.1 374.6 L1795.1 368.5 L1796.1 362.8 L1797.1 357.4 L1798.0 352.3 L1799.0 347.6 L1800.0 343.1 L1801.0 338.9 L1802.0 334.9 L1802.9 331.1 L1803.9 327.5 L1804.9 324.2 L1805.9 321.0 L1806.9 317.9 L1807.8 315.1 L1808.8 312.4 L1809.8 309.8 L1810.8 307.3 L1811.8 305.0 L1812.7 302.8 L1813.7 300.7 L1814.7 298.6 L1815.7 296.7 L1816.6 294.9 L1817.6 293.1 L1818.6 291.5 L1819.6 289.9 L1820.6 288.3 L1821.5 286.9 L1822.5 285.5 L1823.5 284.1 L1824.5 282.8 L1825.5 281.6 L1826.4 280.4 L1827.4 279.3 L1828.4 278.2 L1829.4 277.1 L1830.3 276.1 L1831.3 275.2 L1832.3 274.2 L1833.3 273.3 L1834.3 272.5 L1835.2 271.6 L1836.2 270.8 L1837.2 270.0 L1838.2 269.3 L1839.2 268.6 L1840.1 267.9 L1841.1 267.2 L1842.1 266.5 L1843.1 265.9 L1844.0 265.3 L1845.0 264.7 L1846.0 264.1 L1847.0 263.6 L1848.0 263.0 L1848.9 262.5 L1849.9 262.0 L1850.9 261.5 L1851.9 261.0 L1852.9 260.6 L1853.8 260.1 L1854.8 259.7 L1855.8 259.3 L1856.8 258.9 L1857.7 258.5 L1858.7 258.1 L1859.7 257.7 L1860.7 257.4 L1861.7 257.0 L1862.6 256.7 L1863.6 256.3 L1864.6 256.0 L1865.6 255.7 L1866.6 255.4 L1867.5 255.1 L1868.5 254.8 L1869.5 254.5 L1870.5 254.2 L1871.4 253.9 L1872.4 253.7 L1873.4 253.4 L1874.4 253.2 L1875.4 252.9 L1876.3 252.7 L1877.3 252.4 L1878.3 252.2 L1879.3 252.0 L1880.3 251.8 L1881.2 251.5 L1882.2 251.3 L1883.2 251.1 L1884.2 250.9 L1885.1 250.7 L1886.1 250.5 L1887.1 250.4 L1888.1 250.2 L1889.1 250.0 L1890.0 249.8 L1891.0 249.7 L1892.0 249.5" fill="none" stroke="#0000ff" stroke-width="8" stroke-linejoin="round"/>
<g fill="#000"><ellipse cx="448.0" cy="1112.7" rx="11.8" ry="12.8"/><ellipse cx="535.4" cy="1121.0" rx="11.8" ry="12.8"/><ellipse cx="431.5" cy="1149.8" rx="11.8" ry="12.8"/><ellipse cx="458.7" cy="1149.8" rx="11.8" ry="12.8"/><ellipse cx="443.1" cy="1161.4" rx="11.8" ry="12.8"/><ellipse cx="518.1" cy="1151.5" rx="11.8" ry="12.8"/><ellipse cx="523.8" cy="1165.5" rx="11.8" ry="12.8"/><ellipse cx="463.7" cy="1178.7" rx="11.8" ry="12.8"/><ellipse cx="484.3" cy="1173.7" rx="11.8" ry="12.8"/><ellipse cx="504.1" cy="1172.1" rx="11.8" ry="12.8"/><ellipse cx="452.1" cy="1195.2" rx="11.8" ry="12.8"/><ellipse cx="471.1" cy="1211.6" rx="11.8" ry="12.8"/><ellipse cx="490.9" cy="1193.5" rx="11.8" ry="12.8"/><ellipse cx="528.8" cy="1200.1" rx="11.8" ry="12.8"/><ellipse cx="545.3" cy="1180.3" rx="11.8" ry="12.8"/><ellipse cx="556.8" cy="1198.5" rx="11.8" ry="12.8"/><ellipse cx="551.9" cy="1218.2" rx="11.8" ry="12.8"/><ellipse cx="500.8" cy="1224.8" rx="11.8" ry="12.8"/><ellipse cx="489.2" cy="1236.4" rx="11.8" ry="12.8"/><ellipse cx="513.1" cy="1249.6" rx="11.8" ry="12.8"/><ellipse cx="538.7" cy="1238.0" rx="11.8" ry="12.8"/><ellipse cx="563.4" cy="1238.0" rx="11.8" ry="12.8"/><ellipse cx="435.7" cy="1256.2" rx="11.8" ry="12.8"/><ellipse cx="571.6" cy="1272.6" rx="11.8" ry="12.8"/><ellipse cx="576.6" cy="1299.0" rx="11.8" ry="12.8"/><ellipse cx="645.8" cy="1180.3" rx="11.8" ry="12.8"/><ellipse cx="664.0" cy="1175.4" rx="11.8" ry="12.8"/><ellipse cx="678.8" cy="1178.7" rx="11.8" ry="12.8"/><ellipse cx="662.3" cy="1200.1" rx="11.8" ry="12.8"/><ellipse cx="716.7" cy="1188.6" rx="11.8" ry="12.8"/><ellipse cx="692.0" cy="1214.9" rx="11.8" ry="12.8"/><ellipse cx="715.1" cy="1208.4" rx="11.8" ry="12.8"/><ellipse cx="690.3" cy="1236.4" rx="11.8" ry="12.8"/><ellipse cx="703.5" cy="1246.3" rx="11.8" ry="12.8"/><ellipse cx="716.7" cy="1241.3" rx="11.8" ry="12.8"/><ellipse cx="659.0" cy="1239.7" rx="11.8" ry="12.8"/><ellipse cx="642.5" cy="1266.0" rx="11.8" ry="12.8"/><ellipse cx="635.9" cy="1304.0" rx="11.8" ry="12.8"/><ellipse cx="629.3" cy="1340.2" rx="11.8" ry="12.8"/><ellipse cx="705.2" cy="1190.2" rx="11.8" ry="12.8"/><ellipse cx="733.0" cy="1177.0" rx="11.8" ry="12.8"/><ellipse cx="751.1" cy="1175.4" rx="11.8" ry="12.8"/><ellipse cx="772.5" cy="1168.0" rx="11.8" ry="12.8"/><ellipse cx="724.7" cy="1228.1" rx="11.8" ry="12.8"/><ellipse cx="742.9" cy="1211.6" rx="11.8" ry="12.8"/><ellipse cx="761.0" cy="1214.9" rx="11.8" ry="12.8"/><ellipse cx="779.1" cy="1210.0" rx="11.8" ry="12.8"/><ellipse cx="797.3" cy="1236.4" rx="11.8" ry="12.8"/><ellipse cx="785.7" cy="1224.8" rx="11.8" ry="12.8"/><ellipse cx="760.2" cy="1244.6" rx="11.8" ry="12.8"/><ellipse cx="802.2" cy="1266.0" rx="11.8" ry="12.8"/><ellipse cx="807.1" cy="1312.2" rx="11.8" ry="12.8"/><ellipse cx="858.2" cy="1210.0" rx="11.8" ry="12.8"/><ellipse cx="876.4" cy="1185.3" rx="11.8" ry="12.8"/><ellipse cx="894.5" cy="1178.7" rx="11.8" ry="12.8"/><ellipse cx="914.3" cy="1162.2" rx="11.8" ry="12.8"/><ellipse cx="940.7" cy="1173.7" rx="11.8" ry="12.8"/><ellipse cx="907.7" cy="1201.8" rx="11.8" ry="12.8"/><ellipse cx="929.1" cy="1172.1" rx="11.8" ry="12.8"/><ellipse cx="935.7" cy="1144.1" rx="11.8" ry="12.8"/><ellipse cx="976.9" cy="1147.4" rx="11.8" ry="12.8"/><ellipse cx="968.7" cy="1163.8" rx="11.8" ry="12.8"/><ellipse cx="879.7" cy="1241.3" rx="11.8" ry="12.8"/><ellipse cx="864.8" cy="1256.2" rx="11.8" ry="12.8"/><ellipse cx="927.5" cy="1226.5" rx="11.8" ry="12.8"/><ellipse cx="947.3" cy="1214.9" rx="11.8" ry="12.8"/><ellipse cx="963.7" cy="1205.1" rx="11.8" ry="12.8"/><ellipse cx="957.1" cy="1236.4" rx="11.8" ry="12.8"/><ellipse cx="986.8" cy="1234.7" rx="11.8" ry="12.8"/><ellipse cx="990.1" cy="1208.4" rx="11.8" ry="12.8"/><ellipse cx="1006.6" cy="1165.5" rx="11.8" ry="12.8"/><ellipse cx="1033.0" cy="1185.3" rx="11.8" ry="12.8"/><ellipse cx="1009.9" cy="1210.0" rx="11.8" ry="12.8"/><ellipse cx="1049.5" cy="1213.3" rx="11.8" ry="12.8"/><ellipse cx="1016.5" cy="1234.7" rx="11.8" ry="12.8"/><ellipse cx="1024.7" cy="1249.6" rx="11.8" ry="12.8"/><ellipse cx="1054.4" cy="1247.9" rx="11.8" ry="12.8"/><ellipse cx="1059.3" cy="1285.8" rx="11.8" ry="12.8"/><ellipse cx="1136.8" cy="1154.0" rx="11.8" ry="12.8"/><ellipse cx="1141.8" cy="1168.8" rx="11.8" ry="12.8"/><ellipse cx="1171.4" cy="1149.8" rx="11.8" ry="12.8"/><ellipse cx="1200.3" cy="1144.9" rx="11.8" ry="12.8"/><ellipse cx="1220.9" cy="1173.7" rx="11.8" ry="12.8"/><ellipse cx="1290.1" cy="1193.5" rx="11.8" ry="12.8"/><ellipse cx="1130.2" cy="1213.3" rx="11.8" ry="12.8"/><ellipse cx="1150.0" cy="1218.2" rx="11.8" ry="12.8"/><ellipse cx="1115.4" cy="1229.8" rx="11.8" ry="12.8"/><ellipse cx="1125.3" cy="1241.3" rx="11.8" ry="12.8"/><ellipse cx="1151.6" cy="1234.7" rx="11.8" ry="12.8"/><ellipse cx="1178.0" cy="1236.4" rx="11.8" ry="12.8"/><ellipse cx="1196.2" cy="1241.3" rx="11.8" ry="12.8"/><ellipse cx="1181.3" cy="1249.6" rx="11.8" ry="12.8"/><ellipse cx="1206.0" cy="1213.3" rx="11.8" ry="12.8"/><ellipse cx="1215.9" cy="1201.8" rx="11.8" ry="12.8"/><ellipse cx="1230.8" cy="1231.4" rx="11.8" ry="12.8"/><ellipse cx="1115.4" cy="1267.7" rx="11.8" ry="12.8"/><ellipse cx="1102.2" cy="1279.2" rx="11.8" ry="12.8"/><ellipse cx="1163.2" cy="1271.0" rx="11.8" ry="12.8"/><ellipse cx="1158.2" cy="1280.9" rx="11.8" ry="12.8"/><ellipse cx="1105.5" cy="1305.6" rx="11.8" ry="12.8"/><ellipse cx="1097.3" cy="1335.3" rx="11.8" ry="12.8"/><ellipse cx="1189.6" cy="1335.3" rx="11.8" ry="12.8"/><ellipse cx="1234.1" cy="1295.7" rx="11.8" ry="12.8"/><ellipse cx="1240.7" cy="1317.1" rx="11.8" ry="12.8"/><ellipse cx="1283.5" cy="1272.6" rx="11.8" ry="12.8"/><ellipse cx="1291.8" cy="1229.8" rx="11.8" ry="12.8"/><ellipse cx="1280.2" cy="1341.9" rx="11.8" ry="12.8"/><ellipse cx="1306.6" cy="1224.8" rx="11.8" ry="12.8"/><ellipse cx="1347.8" cy="1149.0" rx="11.8" ry="12.8"/><ellipse cx="1334.6" cy="1162.2" rx="11.8" ry="12.8"/><ellipse cx="1324.7" cy="1175.4" rx="11.8" ry="12.8"/><ellipse cx="1308.2" cy="1193.5" rx="11.8" ry="12.8"/><ellipse cx="1365.9" cy="1170.4" rx="11.8" ry="12.8"/><ellipse cx="1438.5" cy="1147.4" rx="11.8" ry="12.8"/><ellipse cx="1397.3" cy="1182.0" rx="11.8" ry="12.8"/><ellipse cx="1413.7" cy="1182.0" rx="11.8" ry="12.8"/><ellipse cx="1431.9" cy="1188.6" rx="11.8" ry="12.8"/><ellipse cx="1456.6" cy="1190.2" rx="11.8" ry="12.8"/><ellipse cx="1473.1" cy="1188.6" rx="11.8" ry="12.8"/><ellipse cx="1463.2" cy="1198.5" rx="11.8" ry="12.8"/><ellipse cx="1342.9" cy="1211.6" rx="11.8" ry="12.8"/><ellipse cx="1372.5" cy="1211.6" rx="11.8" ry="12.8"/><ellipse cx="1400.5" cy="1214.9" rx="11.8" ry="12.8"/><ellipse cx="1425.3" cy="1218.2" rx="11.8" ry="12.8"/><ellipse cx="1443.4" cy="1218.2" rx="11.8" ry="12.8"/><ellipse cx="1458.2" cy="1228.1" rx="11.8" ry="12.8"/><ellipse cx="1379.1" cy="1239.7" rx="11.8" ry="12.8"/><ellipse cx="1420.3" cy="1244.6" rx="11.8" ry="12.8"/><ellipse cx="1479.7" cy="1247.9" rx="11.8" ry="12.8"/><ellipse cx="1572.0" cy="1121.0" rx="11.8" ry="12.8"/><ellipse cx="1590.1" cy="1152.3" rx="11.8" ry="12.8"/><ellipse cx="1583.5" cy="1172.1" rx="11.8" ry="12.8"/><ellipse cx="1548.9" cy="1210.0" rx="11.8" ry="12.8"/><ellipse cx="1576.9" cy="1208.4" rx="11.8" ry="12.8"/><ellipse cx="1595.1" cy="1221.5" rx="11.8" ry="12.8"/><ellipse cx="1540.7" cy="1234.7" rx="11.8" ry="12.8"/><ellipse cx="1567.0" cy="1234.7" rx="11.8" ry="12.8"/><ellipse cx="1562.1" cy="1249.6" rx="11.8" ry="12.8"/><ellipse cx="1534.1" cy="1257.8" rx="11.8" ry="12.8"/><ellipse cx="1530.8" cy="1284.2" rx="11.8" ry="12.8"/><ellipse cx="1525.8" cy="1328.7" rx="11.8" ry="12.8"/><ellipse cx="1606.6" cy="1180.3" rx="11.8" ry="12.8"/><ellipse cx="1636.3" cy="1150.7" rx="11.8" ry="12.8"/><ellipse cx="1652.7" cy="1160.5" rx="11.8" ry="12.8"/><ellipse cx="1665.1" cy="1138.3" rx="11.8" ry="12.8"/><ellipse cx="1670.9" cy="1178.7" rx="11.8" ry="12.8"/><ellipse cx="1687.4" cy="1165.5" rx="11.8" ry="12.8"/><ellipse cx="1700.5" cy="1172.1" rx="11.8" ry="12.8"/><ellipse cx="1609.9" cy="1205.1" rx="11.8" ry="12.8"/><ellipse cx="1628.0" cy="1208.4" rx="11.8" ry="12.8"/><ellipse cx="1649.5" cy="1205.1" rx="11.8" ry="12.8"/><ellipse cx="1665.9" cy="1205.1" rx="11.8" ry="12.8"/><ellipse cx="1679.1" cy="1218.2" rx="11.8" ry="12.8"/><ellipse cx="1708.8" cy="1218.2" rx="11.8" ry="12.8"/><ellipse cx="1629.7" cy="1239.7" rx="11.8" ry="12.8"/><ellipse cx="1647.8" cy="1233.1" rx="11.8" ry="12.8"/><ellipse cx="1692.3" cy="1239.7" rx="11.8" ry="12.8"/><ellipse cx="1708.8" cy="1244.6" rx="11.8" ry="12.8"/><ellipse cx="1728.6" cy="1284.2" rx="11.8" ry="12.8"/><ellipse cx="1715.4" cy="1312.2" rx="11.8" ry="12.8"/><ellipse cx="1857.1" cy="1106.2" rx="11.8" ry="12.8"/><ellipse cx="1817.6" cy="1125.9" rx="11.8" ry="12.8"/><ellipse cx="1830.8" cy="1140.8" rx="11.8" ry="12.8"/><ellipse cx="1825.8" cy="1155.6" rx="11.8" ry="12.8"/><ellipse cx="1844.0" cy="1158.9" rx="11.8" ry="12.8"/><ellipse cx="1835.7" cy="1180.3" rx="11.8" ry="12.8"/><ellipse cx="1870.3" cy="1147.4" rx="11.8" ry="12.8"/><ellipse cx="1883.5" cy="1157.3" rx="11.8" ry="12.8"/><ellipse cx="1878.6" cy="1168.8" rx="11.8" ry="12.8"/><ellipse cx="1796.2" cy="1183.6" rx="11.8" ry="12.8"/><ellipse cx="1863.7" cy="1198.5" rx="11.8" ry="12.8"/><ellipse cx="1811.0" cy="1228.1" rx="11.8" ry="12.8"/><ellipse cx="1789.6" cy="1243.0" rx="11.8" ry="12.8"/><ellipse cx="1781.3" cy="1252.9" rx="11.8" ry="12.8"/><ellipse cx="1801.1" cy="1262.7" rx="11.8" ry="12.8"/><ellipse cx="581.6" cy="1434.0" rx="11.8" ry="12.8"/><ellipse cx="591.1" cy="1469.2" rx="11.8" ry="12.8"/><ellipse cx="626.3" cy="1512.6" rx="11.8" ry="12.8"/><ellipse cx="619.5" cy="1690.1" rx="11.8" ry="12.8"/><ellipse cx="592.5" cy="1740.2" rx="11.8" ry="12.8"/><ellipse cx="610.1" cy="1835.0" rx="11.8" ry="12.8"/><ellipse cx="599.2" cy="1854.0" rx="11.8" ry="12.8"/><ellipse cx="612.8" cy="1862.1" rx="11.8" ry="12.8"/><ellipse cx="856.6" cy="1375.7" rx="11.8" ry="12.8"/><ellipse cx="811.9" cy="1396.1" rx="11.8" ry="12.8"/><ellipse cx="851.2" cy="1420.5" rx="11.8" ry="12.8"/><ellipse cx="817.4" cy="1504.5" rx="11.8" ry="12.8"/><ellipse cx="826.8" cy="1537.0" rx="11.8" ry="12.8"/><ellipse cx="843.1" cy="1557.3" rx="11.8" ry="12.8"/><ellipse cx="830.9" cy="1572.2" rx="11.8" ry="12.8"/><ellipse cx="1088.4" cy="1370.3" rx="11.8" ry="12.8"/><ellipse cx="1069.4" cy="1375.7" rx="11.8" ry="12.8"/><ellipse cx="1083.0" cy="1406.9" rx="11.8" ry="12.8"/><ellipse cx="1061.3" cy="1423.2" rx="11.8" ry="12.8"/><ellipse cx="1077.5" cy="1431.3" rx="11.8" ry="12.8"/><ellipse cx="1261.8" cy="1366.3" rx="11.8" ry="12.8"/><ellipse cx="1245.5" cy="1387.9" rx="11.8" ry="12.8"/><ellipse cx="1272.6" cy="1408.3" rx="11.8" ry="12.8"/><ellipse cx="1253.7" cy="1453.0" rx="11.8" ry="12.8"/><ellipse cx="1265.9" cy="1503.1" rx="11.8" ry="12.8"/><ellipse cx="1483.4" cy="1356.8" rx="11.8" ry="12.8"/><ellipse cx="1490.1" cy="1374.4" rx="11.8" ry="12.8"/><ellipse cx="1518.6" cy="1377.1" rx="11.8" ry="12.8"/><ellipse cx="1514.5" cy="1550.5" rx="11.8" ry="12.8"/><ellipse cx="1495.5" cy="1599.3" rx="11.8" ry="12.8"/><ellipse cx="1502.3" cy="1717.2" rx="11.8" ry="12.8"/><ellipse cx="1778.7" cy="1367.6" rx="11.8" ry="12.8"/><ellipse cx="1731.3" cy="1387.9" rx="11.8" ry="12.8"/><ellipse cx="1738.1" cy="1478.7" rx="11.8" ry="12.8"/><ellipse cx="1771.9" cy="1497.7" rx="11.8" ry="12.8"/><ellipse cx="1743.5" cy="1645.4" rx="11.8" ry="12.8"/><ellipse cx="1748.9" cy="1663.0" rx="11.8" ry="12.8"/><ellipse cx="1766.5" cy="1660.3" rx="11.8" ry="12.8"/><ellipse cx="1758.4" cy="1802.5" rx="11.8" ry="12.8"/></g>
<path d="M427.5 1179.4 L428.5 1179.5 L429.5 1179.5 L430.4 1179.6 L431.4 1179.7 L432.4 1179.8 L433.4 1179.8 L434.3 1179.9 L435.3 1180.0 L436.3 1180.1 L437.3 1180.2 L438.2 1180.2 L439.2 1180.3 L440.2 1180.4 L441.2 1180.5 L442.2 1180.6 L443.1 1180.7 L444.1 1180.8 L445.1 1180.9 L446.1 1181.0 L447.0 1181.1 L448.0 1181.2 L449.0 1181.3 L450.0 1181.4 L450.9 1181.5 L451.9 1181.6 L452.9 1181.7 L453.9 1181.8 L454.9 1182.0 L455.8 1182.1 L456.8 1182.2 L457.8 1182.3 L458.8 1182.5 L459.7 1182.6 L460.7 1182.7 L461.7 1182.8 L462.7 1183.0 L463.6 1183.1 L464.6 1183.3 L465.6 1183.4 L466.6 1183.6 L467.6 1183.7 L468.5 1183.9 L469.5 1184.0 L470.5 1184.2 L471.5 1184.4 L472.4 1184.5 L473.4 1184.7 L474.4 1184.9 L475.4 1185.1 L476.3 1185.2 L477.3 1185.4 L478.3 1185.6 L479.3 1185.8 L480.3 1186.0 L481.2 1186.2 L482.2 1186.5 L483.2 1186.7 L484.2 1186.9 L485.1 1187.1 L486.1 1187.4 L487.1 1187.6 L488.1 1187.9 L489.1 1188.1 L490.0 1188.4 L491.0 1188.6 L492.0 1188.9 L493.0 1189.2 L493.9 1189.5 L494.9 1189.8 L495.9 1190.1 L496.9 1190.4 L497.8 1190.7 L498.8 1191.1 L499.8 1191.4 L500.8 1191.7 L501.8 1192.1 L502.7 1192.5 L503.7 1192.9 L504.7 1193.3 L505.7 1193.7 L506.6 1194.1 L507.6 1194.5 L508.6 1195.0 L509.6 1195.4 L510.5 1195.9 L511.5 1196.4 L512.5 1196.9 L513.5 1197.4 L514.5 1198.0 L515.4 1198.5 L516.4 1199.1 L517.4 1199.7 L518.4 1200.3 L519.3 1200.9 L520.3 1201.6 L521.3 1202.3 L522.3 1203.0 L523.2 1203.7 L524.2 1204.5 L525.2 1205.3 L526.2 1206.1 L527.2 1207.0 L528.1 1207.8 L529.1 1208.8 L530.1 1209.7 L531.1 1210.7 L532.0 1211.8 L533.0 1212.9 L534.0 1214.0 L535.0 1215.2 L535.9 1216.4 L536.9 1217.7 L537.9 1219.0 L538.9 1220.4 L539.9 1221.9 L540.8 1223.4 L541.8 1225.0 L542.8 1226.7 L543.8 1228.4 L544.7 1230.3 L545.7 1232.2 L546.7 1234.2 L547.7 1236.4 L548.6 1238.6 L549.6 1241.0 L550.6 1243.5 L551.6 1246.1 L552.6 1248.9 L553.5 1251.8 L554.5 1255.0 L555.5 1258.2 L556.5 1261.7 L557.4 1265.4 L558.4 1269.3 L559.4 1273.4 L560.4 1277.8 L561.3 1282.5 L562.3 1287.5 L563.3 1292.8 L564.3 1298.5 L565.3 1304.5 L566.2 1311.0 L567.2 1317.8 L568.2 1325.2 L569.2 1333.1 L570.1 1341.6 L571.1 1350.6 L572.1 1360.4 L573.1 1370.8 L574.0 1382.0 L575.0 1394.1 L576.0 1407.0 L577.0 1420.8 L578.0 1435.7 L578.9 1451.6 L579.9 1468.6 L580.9 1486.8 L581.9 1506.2 L582.8 1526.8 L583.8 1548.5 L584.8 1571.4 L585.8 1595.3 L586.7 1620.1 L587.7 1645.5 L588.7 1671.2 L589.7 1697.0 L590.7 1722.2 L591.6 1746.4 L592.6 1768.9 L593.6 1789.1 L594.6 1806.3 L595.5 1819.8 L596.5 1829.3 L597.5 1834.2 L598.5 1834.3 L599.4 1829.7 L600.4 1820.6 L601.4 1807.3 L602.4 1790.4 L603.4 1770.4 L604.3 1748.0 L605.3 1724.0 L606.3 1698.8 L607.3 1673.2 L608.2 1647.4 L609.2 1622.0 L610.2 1597.2 L611.2 1573.3 L612.2 1550.4 L613.1 1528.7 L614.1 1508.1 L615.1 1488.6 L616.1 1470.4 L617.0 1453.4 L618.0 1437.4 L619.0 1422.5 L620.0 1408.7 L620.9 1395.7 L621.9 1383.7 L622.9 1372.5 L623.9 1362.0 L624.9 1352.3 L625.8 1343.2 L626.8 1334.8 L627.8 1326.9 L628.8 1319.5 L629.7 1312.6 L630.7 1306.2 L631.7 1300.2 L632.7 1294.5 L633.6 1289.3 L634.6 1284.3 L635.6 1279.6 L636.6 1275.3 L637.6 1271.2 L638.5 1267.3 L639.5 1263.6 L640.5 1260.2 L641.5 1257.0 L642.4 1253.9 L643.4 1251.0 L644.4 1248.3 L645.4 1245.7 L646.3 1243.2 L647.3 1240.9 L648.3 1238.7 L649.3 1236.6 L650.3 1234.6 L651.2 1232.7 L652.2 1230.9 L653.2 1229.2 L654.2 1227.5 L655.1 1226.0 L656.1 1224.5 L657.1 1223.1 L658.1 1221.8 L659.0 1220.5 L660.0 1219.2 L661.0 1218.1 L662.0 1216.9 L663.0 1215.9 L663.9 1214.8 L664.9 1213.9 L665.9 1212.9 L666.9 1212.0 L667.8 1211.2 L668.8 1210.3 L669.8 1209.5 L670.8 1208.8 L671.7 1208.1 L672.7 1207.4 L673.7 1206.7 L674.7 1206.1 L675.7 1205.4 L676.6 1204.8 L677.6 1204.3 L678.6 1203.7 L679.6 1203.2 L680.5 1202.7 L681.5 1202.2 L682.5 1201.8 L683.5 1201.3 L684.4 1200.9 L685.4 1200.5 L686.4 1200.1 L687.4 1199.7 L688.4 1199.4 L689.3 1199.0 L690.3 1198.7 L691.3 1198.4 L692.3 1198.1 L693.2 1197.8 L694.2 1197.5 L695.2 1197.2 L696.2 1197.0 L697.1 1196.7 L698.1 1196.5 L699.1 1196.3 L700.1 1196.1 L701.1 1195.9 L702.0 1195.7 L703.0 1195.5 L704.0 1195.4 L705.0 1195.2 L705.9 1195.1 L706.9 1195.0 L707.9 1194.8 L708.9 1194.7 L709.8 1194.6 L710.8 1194.5 L711.8 1194.4 L712.8 1194.3 L713.8 1194.3 L714.7 1194.2 L715.7 1194.2 L716.7 1194.1 L717.7 1194.1 L718.6 1194.0 L719.6 1194.0 L720.6 1194.0 L721.6 1194.0 L722.5 1194.0 L723.5 1194.0 L724.5 1194.1 L725.5 1194.1 L726.5 1194.1 L727.4 1194.2 L728.4 1194.3 L729.4 1194.3 L730.4 1194.4 L731.3 1194.5 L732.3 1194.6 L733.3 1194.7 L734.3 1194.8 L735.3 1195.0 L736.2 1195.1 L737.2 1195.3 L738.2 1195.4 L739.2 1195.6 L740.1 1195.8 L741.1 1196.0 L742.1 1196.2 L743.1 1196.4 L744.0 1196.7 L745.0 1196.9 L746.0 1197.2 L747.0 1197.5 L748.0 1197.8 L748.9 1198.1 L749.9 1198.5 L750.9 1198.8 L751.9 1199.2 L752.8 1199.6 L753.8 1200.0 L754.8 1200.4 L755.8 1200.9 L756.7 1201.3 L757.7 1201.8 L758.7 1202.4 L759.7 1202.9 L760.7 1203.5 L761.6 1204.1 L762.6 1204.7 L763.6 1205.4 L764.6 1206.1 L765.5 1206.9 L766.5 1207.7 L767.5 1208.5 L768.5 1209.3 L769.4 1210.3 L770.4 1211.2 L771.4 1212.2 L772.4 1213.3 L773.4 1214.4 L774.3 1215.6 L775.3 1216.9 L776.3 1218.2 L777.3 1219.6 L778.2 1221.1 L779.2 1222.6 L780.2 1224.3 L781.2 1226.0 L782.1 1227.9 L783.1 1229.9 L784.1 1232.0 L785.1 1234.2 L786.1 1236.6 L787.0 1239.1 L788.0 1241.8 L789.0 1244.7 L790.0 1247.8 L790.9 1251.1 L791.9 1254.6 L792.9 1258.3 L793.9 1262.4 L794.8 1266.7 L795.8 1271.4 L796.8 1276.4 L797.8 1281.8 L798.8 1287.6 L799.7 1293.8 L800.7 1300.6 L801.7 1307.9 L802.7 1315.8 L803.6 1324.3 L804.6 1333.5 L805.6 1343.5 L806.6 1354.3 L807.5 1365.9 L808.5 1378.5 L809.5 1392.1 L810.5 1406.6 L811.5 1422.2 L812.4 1438.8 L813.4 1456.5 L814.4 1475.1 L815.4 1494.6 L816.3 1514.7 L817.3 1535.2 L818.3 1555.8 L819.3 1575.9 L820.2 1595.2 L821.2 1613.0 L822.2 1628.6 L823.2 1641.5 L824.2 1651.1 L825.1 1656.8 L826.1 1658.4 L827.1 1655.9 L828.1 1649.3 L829.0 1639.0 L830.0 1625.5 L831.0 1609.3 L832.0 1591.2 L832.9 1571.6 L833.9 1551.3 L834.9 1530.7 L835.9 1510.2 L836.9 1490.1 L837.8 1470.8 L838.8 1452.3 L839.8 1434.8 L840.8 1418.4 L841.7 1402.9 L842.7 1388.6 L843.7 1375.2 L844.7 1362.8 L845.6 1351.3 L846.6 1340.6 L847.6 1330.7 L848.6 1321.6 L849.6 1313.2 L850.5 1305.4 L851.5 1298.2 L852.5 1291.5 L853.5 1285.3 L854.4 1279.5 L855.4 1274.1 L856.4 1269.2 L857.4 1264.5 L858.4 1260.2 L859.3 1256.2 L860.3 1252.4 L861.3 1248.9 L862.3 1245.6 L863.2 1242.5 L864.2 1239.7 L865.2 1236.9 L866.2 1234.4 L867.1 1232.0 L868.1 1229.8 L869.1 1227.6 L870.1 1225.6 L871.1 1223.7 L872.0 1222.0 L873.0 1220.3 L874.0 1218.7 L875.0 1217.2 L875.9 1215.7 L876.9 1214.4 L877.9 1213.1 L878.9 1211.8 L879.8 1210.7 L880.8 1209.6 L881.8 1208.5 L882.8 1207.5 L883.8 1206.5 L884.7 1205.6 L885.7 1204.7 L886.7 1203.9 L887.7 1203.1 L888.6 1202.4 L889.6 1201.6 L890.6 1200.9 L891.6 1200.3 L892.5 1199.6 L893.5 1199.0 L894.5 1198.4 L895.5 1197.8 L896.5 1197.3 L897.4 1196.8 L898.4 1196.3 L899.4 1195.8 L900.4 1195.3 L901.3 1194.9 L902.3 1194.5 L903.3 1194.1 L904.3 1193.7 L905.2 1193.3 L906.2 1192.9 L907.2 1192.6 L908.2 1192.2 L909.2 1191.9 L910.1 1191.6 L911.1 1191.3 L912.1 1191.0 L913.1 1190.7 L914.0 1190.4 L915.0 1190.2 L916.0 1189.9 L917.0 1189.7 L917.9 1189.4 L918.9 1189.2 L919.9 1189.0 L920.9 1188.8 L921.9 1188.6 L922.8 1188.4 L923.8 1188.2 L924.8 1188.0 L925.8 1187.8 L926.7 1187.7 L927.7 1187.5 L928.7 1187.4 L929.7 1187.2 L930.6 1187.1 L931.6 1186.9 L932.6 1186.8 L933.6 1186.7 L934.6 1186.5 L935.5 1186.4 L936.5 1186.3 L937.5 1186.2 L938.5 1186.1 L939.4 1186.0 L940.4 1185.9 L941.4 1185.8 L942.4 1185.7 L943.3 1185.6 L944.3 1185.6 L945.3 1185.5 L946.3 1185.4 L947.3 1185.3 L948.2 1185.3 L949.2 1185.2 L950.2 1185.2 L951.2 1185.1 L952.1 1185.1 L953.1 1185.0 L954.1 1185.0 L955.1 1184.9 L956.0 1184.9 L957.0 1184.9 L958.0 1184.9 L959.0 1184.8 L960.0 1184.8 L960.9 1184.8 L961.9 1184.8 L962.9 1184.8 L963.9 1184.8 L964.8 1184.8 L965.8 1184.8 L966.8 1184.8 L967.8 1184.8 L968.7 1184.8 L969.7 1184.8 L970.7 1184.9 L971.7 1184.9 L972.7 1184.9 L973.6 1185.0 L974.6 1185.0 L975.6 1185.0 L976.6 1185.1 L977.5 1185.1 L978.5 1185.2 L979.5 1185.3 L980.5 1185.3 L981.5 1185.4 L982.4 1185.5 L983.4 1185.6 L984.4 1185.6 L985.4 1185.7 L986.3 1185.8 L987.3 1185.9 L988.3 1186.0 L989.3 1186.2 L990.2 1186.3 L991.2 1186.4 L992.2 1186.5 L993.2 1186.7 L994.2 1186.8 L995.1 1187.0 L996.1 1187.2 L997.1 1187.3 L998.1 1187.5 L999.0 1187.7 L1000.0 1187.9 L1001.0 1188.1 L1002.0 1188.3 L1002.9 1188.6 L1003.9 1188.8 L1004.9 1189.1 L1005.9 1189.3 L1006.9 1189.6 L1007.8 1189.9 L1008.8 1190.2 L1009.8 1190.6 L1010.8 1190.9 L1011.7 1191.2 L1012.7 1191.6 L1013.7 1192.0 L1014.7 1192.4 L1015.6 1192.9 L1016.6 1193.3 L1017.6 1193.8 L1018.6 1194.3 L1019.6 1194.9 L1020.5 1195.4 L1021.5 1196.0 L1022.5 1196.6 L1023.5 1197.3 L1024.4 1198.0 L1025.4 1198.7 L1026.4 1199.5 L1027.4 1200.4 L1028.3 1201.2 L1029.3 1202.2 L1030.3 1203.1 L1031.3 1204.2 L1032.3 1205.3 L1033.2 1206.5 L1034.2 1207.7 L1035.2 1209.1 L1036.2 1210.5 L1037.1 1212.0 L1038.1 1213.7 L1039.1 1215.4 L1040.1 1217.3 L1041.0 1219.3 L1042.0 1221.5 L1043.0 1223.8 L1044.0 1226.3 L1045.0 1228.9 L1045.9 1231.8 L1046.9 1235.0 L1047.9 1238.3 L1048.9 1242.0 L1049.8 1245.9 L1050.8 1250.1 L1051.8 1254.8 L1052.8 1259.7 L1053.7 1265.2 L1054.7 1271.0 L1055.7 1277.4 L1056.7 1284.2 L1057.7 1291.6 L1058.6 1299.6 L1059.6 1308.1 L1060.6 1317.2 L1061.6 1326.9 L1062.5 1337.1 L1063.5 1347.8 L1064.5 1358.9 L1065.5 1370.1 L1066.4 1381.3 L1067.4 1392.2 L1068.4 1402.5 L1069.4 1411.9 L1070.4 1420.1 L1071.3 1426.5 L1072.3 1431.0 L1073.3 1433.3 L1074.3 1433.3 L1075.2 1430.9 L1076.2 1426.4 L1077.2 1419.9 L1078.2 1411.8 L1079.1 1402.3 L1080.1 1392.0 L1081.1 1381.1 L1082.1 1369.9 L1083.1 1358.6 L1084.0 1347.6 L1085.0 1337.0 L1086.0 1326.8 L1087.0 1317.1 L1087.9 1308.0 L1088.9 1299.4 L1089.9 1291.5 L1090.9 1284.1 L1091.8 1277.3 L1092.8 1271.0 L1093.8 1265.1 L1094.8 1259.7 L1095.8 1254.7 L1096.7 1250.2 L1097.7 1245.9 L1098.7 1242.0 L1099.7 1238.4 L1100.6 1235.0 L1101.6 1231.9 L1102.6 1229.0 L1103.6 1226.4 L1104.6 1223.9 L1105.5 1221.6 L1106.5 1219.4 L1107.5 1217.4 L1108.5 1215.6 L1109.4 1213.8 L1110.4 1212.2 L1111.4 1210.7 L1112.4 1209.3 L1113.3 1207.9 L1114.3 1206.7 L1115.3 1205.5 L1116.3 1204.4 L1117.3 1203.4 L1118.2 1202.4 L1119.2 1201.5 L1120.2 1200.6 L1121.2 1199.8 L1122.1 1199.0 L1123.1 1198.3 L1124.1 1197.6 L1125.1 1197.0 L1126.0 1196.4 L1127.0 1195.8 L1128.0 1195.2 L1129.0 1194.7 L1130.0 1194.2 L1130.9 1193.7 L1131.9 1193.3 L1132.9 1192.9 L1133.9 1192.5 L1134.8 1192.1 L1135.8 1191.7 L1136.8 1191.4 L1137.8 1191.1 L1138.7 1190.8 L1139.7 1190.5 L1140.7 1190.2 L1141.7 1190.0 L1142.7 1189.7 L1143.6 1189.5 L1144.6 1189.3 L1145.6 1189.0 L1146.6 1188.8 L1147.5 1188.7 L1148.5 1188.5 L1149.5 1188.3 L1150.5 1188.2 L1151.4 1188.0 L1152.4 1187.9 L1153.4 1187.8 L1154.4 1187.7 L1155.4 1187.5 L1156.3 1187.4 L1157.3 1187.4 L1158.3 1187.3 L1159.3 1187.2 L1160.2 1187.1 L1161.2 1187.1 L1162.2 1187.0 L1163.2 1187.0 L1164.1 1186.9 L1165.1 1186.9 L1166.1 1186.9 L1167.1 1186.9 L1168.1 1186.9 L1169.0 1186.9 L1170.0 1186.9 L1171.0 1186.9 L1172.0 1186.9 L1172.9 1186.9 L1173.9 1187.0 L1174.9 1187.0 L1175.9 1187.1 L1176.8 1187.1 L1177.8 1187.2 L1178.8 1187.2 L1179.8 1187.3 L1180.8 1187.4 L1181.7 1187.5 L1182.7 1187.6 L1183.7 1187.7 L1184.7 1187.8 L1185.6 1188.0 L1186.6 1188.1 L1187.6 1188.3 L1188.6 1188.4 L1189.5 1188.6 L1190.5 1188.8 L1191.5 1189.0 L1192.5 1189.2 L1193.5 1189.4 L1194.4 1189.6 L1195.4 1189.9 L1196.4 1190.1 L1197.4 1190.4 L1198.3 1190.7 L1199.3 1191.0 L1200.3 1191.3 L1201.3 1191.7 L1202.2 1192.0 L1203.2 1192.4 L1204.2 1192.8 L1205.2 1193.2 L1206.2 1193.6 L1207.1 1194.1 L1208.1 1194.6 L1209.1 1195.1 L1210.1 1195.7 L1211.0 1196.3 L1212.0 1196.9 L1213.0 1197.5 L1214.0 1198.2 L1214.9 1198.9 L1215.9 1199.7 L1216.9 1200.5 L1217.9 1201.4 L1218.9 1202.3 L1219.8 1203.3 L1220.8 1204.4 L1221.8 1205.5 L1222.8 1206.7 L1223.7 1207.9 L1224.7 1209.3 L1225.7 1210.7 L1226.7 1212.3 L1227.7 1214.0 L1228.6 1215.7 L1229.6 1217.6 L1230.6 1219.7 L1231.6 1221.9 L1232.5 1224.3 L1233.5 1226.8 L1234.5 1229.6 L1235.5 1232.6 L1236.4 1235.8 L1237.4 1239.3 L1238.4 1243.1 L1239.4 1247.2 L1240.4 1251.6 L1241.3 1256.5 L1242.3 1261.8 L1243.3 1267.5 L1244.3 1273.7 L1245.2 1280.4 L1246.2 1287.8 L1247.2 1295.7 L1248.2 1304.2 L1249.1 1313.5 L1250.1 1323.3 L1251.1 1333.8 L1252.1 1345.0 L1253.1 1356.6 L1254.0 1368.6 L1255.0 1380.7 L1256.0 1392.8 L1257.0 1404.5 L1257.9 1415.5 L1258.9 1425.2 L1259.9 1433.3 L1260.9 1439.5 L1261.8 1443.3 L1262.8 1444.5 L1263.8 1443.1 L1264.8 1439.2 L1265.8 1432.9 L1266.7 1424.6 L1267.7 1414.8 L1268.7 1403.8 L1269.7 1392.1 L1270.6 1380.0 L1271.6 1367.8 L1272.6 1355.8 L1273.6 1344.2 L1274.5 1333.2 L1275.5 1322.7 L1276.5 1312.9 L1277.5 1303.7 L1278.5 1295.2 L1279.4 1287.3 L1280.4 1280.0 L1281.4 1273.3 L1282.4 1267.1 L1283.3 1261.4 L1284.3 1256.2 L1285.3 1251.3 L1286.3 1246.9 L1287.2 1242.8 L1288.2 1239.0 L1289.2 1235.6 L1290.2 1232.3 L1291.2 1229.4 L1292.1 1226.6 L1293.1 1224.1 L1294.1 1221.7 L1295.1 1219.5 L1296.0 1217.5 L1297.0 1215.6 L1298.0 1213.8 L1299.0 1212.1 L1299.9 1210.6 L1300.9 1209.1 L1301.9 1207.8 L1302.9 1206.5 L1303.9 1205.3 L1304.8 1204.2 L1305.8 1203.2 L1306.8 1202.2 L1307.8 1201.2 L1308.7 1200.4 L1309.7 1199.5 L1310.7 1198.8 L1311.7 1198.0 L1312.6 1197.3 L1313.6 1196.7 L1314.6 1196.0 L1315.6 1195.5 L1316.6 1194.9 L1317.5 1194.4 L1318.5 1193.9 L1319.5 1193.4 L1320.5 1192.9 L1321.4 1192.5 L1322.4 1192.1 L1323.4 1191.7 L1324.4 1191.3 L1325.3 1191.0 L1326.3 1190.7 L1327.3 1190.3 L1328.3 1190.0 L1329.3 1189.8 L1330.2 1189.5 L1331.2 1189.2 L1332.2 1189.0 L1333.2 1188.7 L1334.1 1188.5 L1335.1 1188.3 L1336.1 1188.1 L1337.1 1187.9 L1338.0 1187.7 L1339.0 1187.6 L1340.0 1187.4 L1341.0 1187.2 L1342.0 1187.1 L1342.9 1186.9 L1343.9 1186.8 L1344.9 1186.7 L1345.9 1186.6 L1346.8 1186.5 L1347.8 1186.3 L1348.8 1186.2 L1349.8 1186.2 L1350.8 1186.1 L1351.7 1186.0 L1352.7 1185.9 L1353.7 1185.8 L1354.7 1185.8 L1355.6 1185.7 L1356.6 1185.6 L1357.6 1185.6 L1358.6 1185.6 L1359.5 1185.5 L1360.5 1185.5 L1361.5 1185.4 L1362.5 1185.4 L1363.5 1185.4 L1364.4 1185.4 L1365.4 1185.3 L1366.4 1185.3 L1367.4 1185.3 L1368.3 1185.3 L1369.3 1185.3 L1370.3 1185.3 L1371.3 1185.3 L1372.2 1185.4 L1373.2 1185.4 L1374.2 1185.4 L1375.2 1185.4 L1376.2 1185.4 L1377.1 1185.5 L1378.1 1185.5 L1379.1 1185.5 L1380.1 1185.6 L1381.0 1185.6 L1382.0 1185.7 L1383.0 1185.7 L1384.0 1185.8 L1384.9 1185.9 L1385.9 1185.9 L1386.9 1186.0 L1387.9 1186.1 L1388.9 1186.2 L1389.8 1186.2 L1390.8 1186.3 L1391.8 1186.4 L1392.8 1186.5 L1393.7 1186.6 L1394.7 1186.7 L1395.7 1186.8 L1396.7 1186.9 L1397.6 1187.1 L1398.6 1187.2 L1399.6 1187.3 L1400.6 1187.5 L1401.6 1187.6 L1402.5 1187.7 L1403.5 1187.9 L1404.5 1188.1 L1405.5 1188.2 L1406.4 1188.4 L1407.4 1188.6 L1408.4 1188.8 L1409.4 1188.9 L1410.3 1189.1 L1411.3 1189.3 L1412.3 1189.6 L1413.3 1189.8 L1414.3 1190.0 L1415.2 1190.2 L1416.2 1190.5 L1417.2 1190.7 L1418.2 1191.0 L1419.1 1191.3 L1420.1 1191.5 L1421.1 1191.8 L1422.1 1192.1 L1423.0 1192.4 L1424.0 1192.8 L1425.0 1193.1 L1426.0 1193.4 L1427.0 1193.8 L1427.9 1194.2 L1428.9 1194.6 L1429.9 1195.0 L1430.9 1195.4 L1431.8 1195.8 L1432.8 1196.3 L1433.8 1196.7 L1434.8 1197.2 L1435.7 1197.7 L1436.7 1198.2 L1437.7 1198.8 L1438.7 1199.3 L1439.7 1199.9 L1440.6 1200.5 L1441.6 1201.2 L1442.6 1201.8 L1443.6 1202.5 L1444.5 1203.2 L1445.5 1204.0 L1446.5 1204.8 L1447.5 1205.6 L1448.4 1206.5 L1449.4 1207.3 L1450.4 1208.3 L1451.4 1209.2 L1452.4 1210.3 L1453.3 1211.3 L1454.3 1212.5 L1455.3 1213.6 L1456.3 1214.9 L1457.2 1216.2 L1458.2 1217.5 L1459.2 1218.9 L1460.2 1220.4 L1461.1 1222.0 L1462.1 1223.7 L1463.1 1225.4 L1464.1 1227.3 L1465.1 1229.2 L1466.0 1231.3 L1467.0 1233.4 L1468.0 1235.7 L1469.0 1238.2 L1469.9 1240.8 L1470.9 1243.5 L1471.9 1246.4 L1472.9 1249.5 L1473.9 1252.8 L1474.8 1256.3 L1475.8 1260.0 L1476.8 1264.0 L1477.8 1268.2 L1478.7 1272.7 L1479.7 1277.5 L1480.7 1282.7 L1481.7 1288.2 L1482.6 1294.1 L1483.6 1300.5 L1484.6 1307.3 L1485.6 1314.6 L1486.6 1322.4 L1487.5 1330.8 L1488.5 1339.9 L1489.5 1349.5 L1490.5 1359.9 L1491.4 1371.1 L1492.4 1383.0 L1493.4 1395.7 L1494.4 1409.3 L1495.3 1423.7 L1496.3 1438.9 L1497.3 1455.0 L1498.3 1471.8 L1499.3 1489.2 L1500.2 1507.2 L1501.2 1525.5 L1502.2 1543.8 L1503.2 1561.9 L1504.1 1579.4 L1505.1 1595.8 L1506.1 1610.7 L1507.1 1623.7 L1508.0 1634.2 L1509.0 1641.9 L1510.0 1646.4 L1511.0 1647.6 L1512.0 1645.5 L1512.9 1640.0 L1513.9 1631.5 L1514.9 1620.3 L1515.9 1606.7 L1516.8 1591.3 L1517.8 1574.6 L1518.8 1556.9 L1519.8 1538.7 L1520.7 1520.4 L1521.7 1502.2 L1522.7 1484.4 L1523.7 1467.1 L1524.7 1450.5 L1525.6 1434.7 L1526.6 1419.7 L1527.6 1405.6 L1528.6 1392.3 L1529.5 1379.8 L1530.5 1368.2 L1531.5 1357.3 L1532.5 1347.1 L1533.4 1337.7 L1534.4 1328.8 L1535.4 1320.6 L1536.4 1313.0 L1537.4 1305.8 L1538.3 1299.2 L1539.3 1293.0 L1540.3 1287.2 L1541.3 1281.8 L1542.2 1276.8 L1543.2 1272.1 L1544.2 1267.6 L1545.2 1263.5 L1546.1 1259.6 L1547.1 1256.0 L1548.1 1252.6 L1549.1 1249.4 L1550.1 1246.4 L1551.0 1243.6 L1552.0 1240.9 L1553.0 1238.4 L1554.0 1236.0 L1554.9 1233.8 L1555.9 1231.7 L1556.9 1229.7 L1557.9 1227.8 L1558.8 1226.0 L1559.8 1224.3 L1560.8 1222.7 L1561.8 1221.1 L1562.8 1219.7 L1563.7 1218.3 L1564.7 1217.0 L1565.7 1215.8 L1566.7 1214.6 L1567.6 1213.4 L1568.6 1212.4 L1569.6 1211.3 L1570.6 1210.4 L1571.5 1209.4 L1572.5 1208.5 L1573.5 1207.7 L1574.5 1206.9 L1575.5 1206.1 L1576.4 1205.4 L1577.4 1204.6 L1578.4 1204.0 L1579.4 1203.3 L1580.3 1202.7 L1581.3 1202.1 L1582.3 1201.5 L1583.3 1201.0 L1584.2 1200.5 L1585.2 1200.0 L1586.2 1199.5 L1587.2 1199.0 L1588.2 1198.6 L1589.1 1198.1 L1590.1 1197.7 L1591.1 1197.3 L1592.1 1197.0 L1593.0 1196.6 L1594.0 1196.3 L1595.0 1195.9 L1596.0 1195.6 L1597.0 1195.3 L1597.9 1195.0 L1598.9 1194.8 L1599.9 1194.5 L1600.9 1194.2 L1601.8 1194.0 L1602.8 1193.8 L1603.8 1193.5 L1604.8 1193.3 L1605.7 1193.1 L1606.7 1192.9 L1607.7 1192.7 L1608.7 1192.6 L1609.7 1192.4 L1610.6 1192.2 L1611.6 1192.1 L1612.6 1191.9 L1613.6 1191.8 L1614.5 1191.7 L1615.5 1191.6 L1616.5 1191.5 L1617.5 1191.3 L1618.4 1191.2 L1619.4 1191.2 L1620.4 1191.1 L1621.4 1191.0 L1622.4 1190.9 L1623.3 1190.9 L1624.3 1190.8 L1625.3 1190.7 L1626.3 1190.7 L1627.2 1190.7 L1628.2 1190.6 L1629.2 1190.6 L1630.2 1190.6 L1631.1 1190.6 L1632.1 1190.5 L1633.1 1190.5 L1634.1 1190.5 L1635.1 1190.5 L1636.0 1190.6 L1637.0 1190.6 L1638.0 1190.6 L1639.0 1190.6 L1639.9 1190.7 L1640.9 1190.7 L1641.9 1190.8 L1642.9 1190.8 L1643.8 1190.9 L1644.8 1190.9 L1645.8 1191.0 L1646.8 1191.1 L1647.8 1191.2 L1648.7 1191.3 L1649.7 1191.4 L1650.7 1191.5 L1651.7 1191.6 L1652.6 1191.7 L1653.6 1191.8 L1654.6 1191.9 L1655.6 1192.1 L1656.5 1192.2 L1657.5 1192.4 L1658.5 1192.5 L1659.5 1192.7 L1660.5 1192.9 L1661.4 1193.1 L1662.4 1193.3 L1663.4 1193.5 L1664.4 1193.7 L1665.3 1193.9 L1666.3 1194.1 L1667.3 1194.4 L1668.3 1194.6 L1669.2 1194.9 L1670.2 1195.1 L1671.2 1195.4 L1672.2 1195.7 L1673.2 1196.0 L1674.1 1196.3 L1675.1 1196.6 L1676.1 1197.0 L1677.1 1197.3 L1678.0 1197.7 L1679.0 1198.1 L1680.0 1198.5 L1681.0 1198.9 L1681.9 1199.3 L1682.9 1199.8 L1683.9 1200.2 L1684.9 1200.7 L1685.9 1201.2 L1686.8 1201.7 L1687.8 1202.3 L1688.8 1202.8 L1689.8 1203.4 L1690.7 1204.0 L1691.7 1204.6 L1692.7 1205.3 L1693.7 1206.0 L1694.6 1206.7 L1695.6 1207.4 L1696.6 1208.2 L1697.6 1209.0 L1698.6 1209.9 L1699.5 1210.8 L1700.5 1211.7 L1701.5 1212.6 L1702.5 1213.6 L1703.4 1214.7 L1704.4 1215.8 L1705.4 1216.9 L1706.4 1218.1 L1707.3 1219.4 L1708.3 1220.7 L1709.3 1222.0 L1710.3 1223.5 L1711.3 1225.0 L1712.2 1226.6 L1713.2 1228.2 L1714.2 1230.0 L1715.2 1231.8 L1716.1 1233.8 L1717.1 1235.8 L1718.1 1237.9 L1719.1 1240.2 L1720.1 1242.6 L1721.0 1245.1 L1722.0 1247.8 L1723.0 1250.6 L1724.0 1253.6 L1724.9 1256.8 L1725.9 1260.1 L1726.9 1263.7 L1727.9 1267.5 L1728.8 1271.5 L1729.8 1275.8 L1730.8 1280.3 L1731.8 1285.2 L1732.8 1290.4 L1733.7 1295.9 L1734.7 1301.8 L1735.7 1308.2 L1736.7 1314.9 L1737.6 1322.2 L1738.6 1330.0 L1739.6 1338.4 L1740.6 1347.4 L1741.5 1357.0 L1742.5 1367.4 L1743.5 1378.6 L1744.5 1390.6 L1745.5 1403.5 L1746.4 1417.5 L1747.4 1432.4 L1748.4 1448.5 L1749.4 1465.7 L1750.3 1484.2 L1751.3 1503.9 L1752.3 1524.9 L1753.3 1547.2 L1754.2 1570.6 L1755.2 1595.2 L1756.2 1620.8 L1757.2 1647.1 L1758.2 1673.8 L1759.1 1700.4 L1760.1 1726.6 L1761.1 1751.6 L1762.1 1774.9 L1763.0 1795.6 L1764.0 1813.0 L1765.0 1826.6 L1766.0 1835.6 L1766.9 1839.7 L1767.9 1838.8 L1768.9 1832.8 L1769.9 1822.1 L1770.9 1807.0 L1771.8 1788.3 L1772.8 1766.5 L1773.8 1742.5 L1774.8 1717.0 L1775.7 1690.5 L1776.7 1663.8 L1777.7 1637.2 L1778.7 1611.1 L1779.6 1585.8 L1780.6 1561.6 L1781.6 1538.5 L1782.6 1516.7 L1783.6 1496.1 L1784.5 1476.8 L1785.5 1458.8 L1786.5 1441.9 L1787.5 1426.2 L1788.4 1411.6 L1789.4 1398.0 L1790.4 1385.4 L1791.4 1373.6 L1792.3 1362.7 L1793.3 1352.6 L1794.3 1343.1 L1795.3 1334.3 L1796.3 1326.2 L1797.2 1318.5 L1798.2 1311.4 L1799.2 1304.8 L1800.2 1298.5 L1801.1 1292.7 L1802.1 1287.3 L1803.1 1282.2 L1804.1 1277.4 L1805.0 1272.9 L1806.0 1268.7 L1807.0 1264.7 L1808.0 1261.0 L1809.0 1257.5 L1809.9 1254.1 L1810.9 1251.0 L1811.9 1248.0 L1812.9 1245.2 L1813.8 1242.6 L1814.8 1240.1 L1815.8 1237.7 L1816.8 1235.4 L1817.7 1233.3 L1818.7 1231.2 L1819.7 1229.3 L1820.7 1227.5 L1821.7 1225.7 L1822.6 1224.0 L1823.6 1222.4 L1824.6 1220.9 L1825.6 1219.4 L1826.5 1218.0 L1827.5 1216.7 L1828.5 1215.4 L1829.5 1214.2 L1830.4 1213.1 L1831.4 1211.9 L1832.4 1210.9 L1833.4 1209.8 L1834.4 1208.8 L1835.3 1207.9 L1836.3 1207.0 L1837.3 1206.1 L1838.3 1205.3 L1839.2 1204.5 L1840.2 1203.7 L1841.2 1202.9 L1842.2 1202.2 L1843.2 1201.5 L1844.1 1200.8 L1845.1 1200.2 L1846.1 1199.5 L1847.1 1198.9 L1848.0 1198.3 L1849.0 1197.8 L1850.0 1197.2 L1851.0 1196.7 L1851.9 1196.2 L1852.9 1195.7 L1853.9 1195.2 L1854.9 1194.8 L1855.9 1194.3 L1856.8 1193.9 L1857.8 1193.4 L1858.8 1193.0 L1859.8 1192.6 L1860.7 1192.2 L1861.7 1191.9 L1862.7 1191.5 L1863.7 1191.2 L1864.6 1190.8 L1865.6 1190.5 L1866.6 1190.2 L1867.6 1189.8 L1868.6 1189.5 L1869.5 1189.2 L1870.5 1188.9 L1871.5 1188.7 L1872.5 1188.4 L1873.4 1188.1 L1874.4 1187.9 L1875.4 1187.6 L1876.4 1187.4 L1877.3 1187.1 L1878.3 1186.9 L1879.3 1186.6 L1880.3 1186.4 L1881.3 1186.2 L1882.2 1186.0 L1883.2 1185.8 L1884.2 1185.6 L1885.2 1185.4 L1886.1 1185.2 L1887.1 1185.0 L1888.1 1184.8 L1889.1 1184.6 L1890.0 1184.5 L1891.0 1184.3 L1892.0 1184.1" fill="none" stroke="#ff0000" stroke-width="8" stroke-linejoin="round"/>
<g transform="matrix(0.9730 0 0 1.0200 -77.91 -719.93)"><text x="300" y="800" style="font-family:'Liberation Sans',Arial,sans-serif;font-size:84px">1.00</text></g>
<g transform="matrix(0.9730 0 0 1.0200 -77.86 -427.93)"><text x="300" y="800" style="font-family:'Liberation Sans',Arial,sans-serif;font-size:84px">0.99</text></g>
<g transform="matrix(0.9730 0 0 1.0200 -78.35 -136.93)"><text x="300" y="800" style="font-family:'Liberation Sans',Arial,sans-serif;font-size:84px">0.98</text></g>
<g transform="matrix(0.9730 0 0 1.0200 -77.86 155.62)"><text x="300" y="800" style="font-family:'Liberation Sans',Arial,sans-serif;font-size:84px">0.97</text></g>
<g transform="matrix(0.9730 0 0 1.0200 -77.31 227.87)"><text x="300" y="800" style="font-family:'Liberation Sans',Arial,sans-serif;font-size:84px">1.00</text></g>
<g transform="matrix(0.9730 0 0 1.0200 -77.86 520.57)"><text x="300" y="800" style="font-family:'Liberation Sans',Arial,sans-serif;font-size:84px">0.99</text></g>
<g transform="matrix(0.9730 0 0 1.0200 -77.80 811.97)"><text x="300" y="800" style="font-family:'Liberation Sans',Arial,sans-serif;font-size:84px">0.98</text></g>
<g transform="matrix(0.9730 0 0 1.0200 -77.61 1103.62)"><text x="300" y="800" style="font-family:'Liberation Sans',Arial,sans-serif;font-size:84px">0.97</text></g>
<g transform="matrix(0.9730 0 0 1.0200 76.80 1202.77)"><text x="300" y="800" style="font-family:'Liberation Sans',Arial,sans-serif;font-size:84px">-10</text></g>
<g transform="matrix(0.9730 0 0 1.0200 465.71 1202.56)"><text x="300" y="800" style="font-family:'Liberation Sans',Arial,sans-serif;font-size:84px">-5</text></g>
<g transform="matrix(0.9730 0 0 1.0200 846.17 1202.77)"><text x="300" y="800" style="font-family:'Liberation Sans',Arial,sans-serif;font-size:84px">0</text></g>
<g transform="matrix(0.9730 0 0 1.0200 1211.18 1202.56)"><text x="300" y="800" style="font-family:'Liberation Sans',Arial,sans-serif;font-size:84px">5</text></g>
<g transform="matrix(0.9730 0 0 1.0200 1555.70 1202.77)"><text x="300" y="800" style="font-family:'Liberation Sans',Arial,sans-serif;font-size:84px">10</text></g>
<g transform="matrix(1.0079 0 0 0.9681 443.43 1378.63)"><text x="300" y="800" style="font-family:'Liberation Serif','Times New Roman',serif;font-weight:bold;font-size:104px">Velocity (mm/s)</text></g>
<g transform="matrix(0.9726 0 0 1.0016 -667.55 -14.30)"><text x="800" y="1450" transform="rotate(-90 800 1450)" style="font-family:'Liberation Serif','Times New Roman',serif;font-weight:bold;font-size:104px">Normalized Transmission</text></g>
<g transform="matrix(0.9947 0 0 1.0171 655.68 -59.03)"><text x="300" y="800" style="font-family:'Liberation Serif','Times New Roman',serif;font-weight:bold;font-size:104px">x = 0.20</text></g>
<g transform="matrix(0.9962 0 0 1.0243 719.04 860.35)"><text x="300" y="800" style="font-family:'Liberation Serif','Times New Roman',serif;font-weight:bold;font-size:104px">x = 0</text></g>
</svg>
</div></body></html>
